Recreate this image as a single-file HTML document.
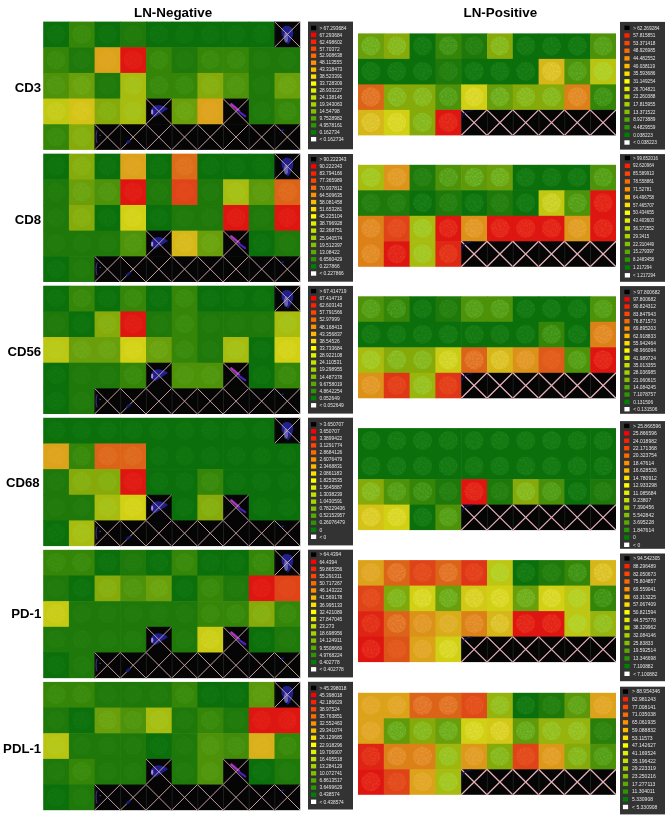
<!DOCTYPE html>
<html><head><meta charset="utf-8"><style>
html,body{margin:0;padding:0;background:#ffffff;width:669px;height:815px;overflow:hidden}
svg{display:block;will-change:transform}
.title{font-family:"Liberation Sans",sans-serif;font-weight:bold;font-size:13.4px;fill:#000}
.lab{font-family:"Liberation Sans",sans-serif;font-weight:bold;font-size:13.2px;fill:#000}
.lt{font-family:"Liberation Sans",sans-serif;font-size:4.85px;fill:#e4e4e4}
</style></head><body>
<svg width="669" height="815" viewBox="0 0 669 815">
<defs><filter id="speck" x="0" y="0" width="669" height="815" filterUnits="userSpaceOnUse" color-interpolation-filters="sRGB">
<feTurbulence type="fractalNoise" baseFrequency="0.55" numOctaves="2" seed="7" result="n"/>
<feColorMatrix in="n" type="matrix" values="0 0 0 0 0  0 0 0 0 0  0 0 0 0 0  3 0 0 0 -1.2" result="a"/>
<feComposite in="SourceGraphic" in2="a" operator="in"/>
</filter></defs>
<text x="134" y="16.6" class="title">LN-Negative</text><text x="463.5" y="16.6" class="title">LN-Positive</text><rect x="43.20" y="21.60" width="26.30" height="26.26" fill="#0b700b"/><circle cx="56.05" cy="34.13" r="9.62" fill="#0e730e"/><rect x="68.90" y="21.60" width="26.30" height="26.26" fill="#358508"/><circle cx="81.75" cy="34.13" r="9.62" fill="#398a0d"/><rect x="94.60" y="21.60" width="26.30" height="26.26" fill="#0b700b"/><circle cx="107.45" cy="34.13" r="9.62" fill="#0e730e"/><rect x="120.30" y="21.60" width="26.30" height="26.26" fill="#1e780a"/><circle cx="133.15" cy="34.13" r="9.62" fill="#217b0d"/><rect x="146.00" y="21.60" width="26.30" height="26.26" fill="#0b700b"/><circle cx="158.85" cy="34.13" r="9.62" fill="#0e730e"/><rect x="171.70" y="21.60" width="26.30" height="26.26" fill="#0b700b"/><circle cx="184.55" cy="34.13" r="9.62" fill="#0e730e"/><rect x="197.40" y="21.60" width="26.30" height="26.26" fill="#0b700b"/><circle cx="210.25" cy="34.13" r="9.62" fill="#0e730e"/><rect x="223.10" y="21.60" width="26.30" height="26.26" fill="#0b700b"/><circle cx="235.95" cy="34.13" r="9.62" fill="#0e730e"/><rect x="248.80" y="21.60" width="26.30" height="26.26" fill="#0b700b"/><circle cx="261.65" cy="34.13" r="9.62" fill="#0e730e"/><rect x="274.50" y="21.60" width="25.70" height="26.26" fill="#050505"/><path d="M274.90,21.60 V47.26" stroke="#242424" stroke-width="0.8"/><path d="M281.44,30.84 C281.44,23.65 293.77,24.17 293.26,32.38 C293.00,37.51 289.92,42.13 287.86,44.69 C286.06,41.10 281.44,37.00 281.44,30.84 Z" fill="#20208a"/><ellipse cx="286.06" cy="37.51" rx="2.06" ry="5.13" fill="#9a9ad8" opacity="0.55"/><path d="M274.50,21.60 L300.20,47.26 M300.20,21.60 L274.50,47.26" stroke="#cca6aa" stroke-width="0.95" fill="none"/><rect x="43.20" y="47.26" width="26.30" height="26.26" fill="#358508"/><circle cx="56.05" cy="59.79" r="9.62" fill="#398a0d"/><rect x="68.90" y="47.26" width="26.30" height="26.26" fill="#1e780a"/><circle cx="81.75" cy="59.79" r="9.62" fill="#217b0d"/><rect x="94.60" y="47.26" width="26.30" height="26.26" fill="#dca21a"/><circle cx="107.45" cy="59.79" r="9.62" fill="#dea41f"/><rect x="120.30" y="47.26" width="26.30" height="26.26" fill="#de1612"/><circle cx="133.15" cy="59.79" r="9.62" fill="#e01b14"/><rect x="146.00" y="47.26" width="26.30" height="26.26" fill="#358508"/><circle cx="158.85" cy="59.79" r="9.62" fill="#398a0d"/><rect x="171.70" y="47.26" width="26.30" height="26.26" fill="#1e780a"/><circle cx="184.55" cy="59.79" r="9.62" fill="#217b0d"/><rect x="197.40" y="47.26" width="26.30" height="26.26" fill="#358508"/><circle cx="210.25" cy="59.79" r="9.62" fill="#398a0d"/><rect x="223.10" y="47.26" width="26.30" height="26.26" fill="#358508"/><circle cx="235.95" cy="59.79" r="9.62" fill="#398a0d"/><rect x="248.80" y="47.26" width="26.30" height="26.26" fill="#1e780a"/><circle cx="261.65" cy="59.79" r="9.62" fill="#217b0d"/><rect x="274.50" y="47.26" width="25.70" height="26.26" fill="#1e780a"/><circle cx="287.35" cy="59.79" r="9.62" fill="#217b0d"/><rect x="43.20" y="72.92" width="26.30" height="26.26" fill="#4e920a"/><circle cx="56.05" cy="85.45" r="9.62" fill="#51960f"/><rect x="68.90" y="72.92" width="26.30" height="26.26" fill="#6a9e0a"/><circle cx="81.75" cy="85.45" r="9.62" fill="#6ca310"/><rect x="94.60" y="72.92" width="26.30" height="26.26" fill="#1e780a"/><circle cx="107.45" cy="85.45" r="9.62" fill="#217b0d"/><rect x="120.30" y="72.92" width="26.30" height="26.26" fill="#a8bc10"/><circle cx="133.15" cy="85.45" r="9.62" fill="#a7c016"/><rect x="146.00" y="72.92" width="26.30" height="26.26" fill="#358508"/><circle cx="158.85" cy="85.45" r="9.62" fill="#398a0d"/><rect x="171.70" y="72.92" width="26.30" height="26.26" fill="#358508"/><circle cx="184.55" cy="85.45" r="9.62" fill="#398a0d"/><rect x="197.40" y="72.92" width="26.30" height="26.26" fill="#86aa0a"/><circle cx="210.25" cy="85.45" r="9.62" fill="#87af10"/><rect x="223.10" y="72.92" width="26.30" height="26.26" fill="#4e920a"/><circle cx="235.95" cy="85.45" r="9.62" fill="#51960f"/><rect x="248.80" y="72.92" width="26.30" height="26.26" fill="#1e780a"/><circle cx="261.65" cy="85.45" r="9.62" fill="#217b0d"/><rect x="274.50" y="72.92" width="25.70" height="26.26" fill="#6a9e0a"/><circle cx="287.35" cy="85.45" r="9.62" fill="#6ca310"/><rect x="43.20" y="98.58" width="26.30" height="26.26" fill="#c1c812"/><circle cx="56.05" cy="111.11" r="9.62" fill="#c5cb19"/><rect x="68.90" y="98.58" width="26.30" height="26.26" fill="#d4c316"/><circle cx="81.75" cy="111.11" r="9.62" fill="#d6c61c"/><rect x="94.60" y="98.58" width="26.30" height="26.26" fill="#86aa0a"/><circle cx="107.45" cy="111.11" r="9.62" fill="#87af10"/><rect x="120.30" y="98.58" width="26.30" height="26.26" fill="#a8bc10"/><circle cx="133.15" cy="111.11" r="9.62" fill="#a7c016"/><rect x="146.00" y="98.58" width="26.30" height="26.26" fill="#050505"/><path d="M146.40,98.58 V124.24" stroke="#242424" stroke-width="0.8"/><path d="M151.14,114.49 C149.08,106.28 157.56,101.15 168.10,108.84 L160.13,113.98 L155.00,117.06 Z" fill="#1e1e8c"/><ellipse cx="152.17" cy="111.92" rx="1.1" ry="2.6" fill="#d0a8e8" opacity="0.8"/><path d="M146.00,98.58 L171.70,124.24 M171.70,98.58 L146.00,124.24" stroke="#cca6aa" stroke-width="0.95" fill="none"/><rect x="171.70" y="98.58" width="26.30" height="26.26" fill="#6a9e0a"/><circle cx="184.55" cy="111.11" r="9.62" fill="#6ca310"/><rect x="197.40" y="98.58" width="26.30" height="26.26" fill="#dca21a"/><circle cx="210.25" cy="111.11" r="9.62" fill="#dea41f"/><rect x="223.10" y="98.58" width="26.30" height="26.26" fill="#050505"/><path d="M223.50,98.58 V124.24" stroke="#242424" stroke-width="0.8"/><path d="M231.32,104.23 L239.03,110.90" stroke="#b030c8" stroke-width="2.4" stroke-linecap="round"/><path d="M238.52,111.41 L245.20,116.03" stroke="#4a20c0" stroke-width="2.2" stroke-linecap="round"/><path d="M223.10,98.58 L248.80,124.24 M248.80,98.58 L223.10,124.24" stroke="#cca6aa" stroke-width="0.95" fill="none"/><rect x="248.80" y="98.58" width="26.30" height="26.26" fill="#1e780a"/><circle cx="261.65" cy="111.11" r="9.62" fill="#217b0d"/><rect x="274.50" y="98.58" width="25.70" height="26.26" fill="#358508"/><circle cx="287.35" cy="111.11" r="9.62" fill="#398a0d"/><rect x="43.20" y="124.24" width="26.30" height="25.66" fill="#358508"/><circle cx="56.05" cy="136.77" r="9.62" fill="#398a0d"/><rect x="68.90" y="124.24" width="26.30" height="25.66" fill="#86aa0a"/><circle cx="81.75" cy="136.77" r="9.62" fill="#87af10"/><rect x="94.60" y="124.24" width="26.30" height="25.66" fill="#050505"/><path d="M95.00,124.24 V149.90" stroke="#242424" stroke-width="0.8"/><path d="M94.60,124.24 L120.30,149.90 M120.30,124.24 L94.60,149.90" stroke="#cca6aa" stroke-width="0.95" fill="none"/><rect x="120.30" y="124.24" width="26.30" height="25.66" fill="#050505"/><path d="M120.70,124.24 V149.90" stroke="#242424" stroke-width="0.8"/><path d="M120.30,124.24 L146.00,149.90 M146.00,124.24 L120.30,149.90" stroke="#cca6aa" stroke-width="0.95" fill="none"/><rect x="146.00" y="124.24" width="26.30" height="25.66" fill="#050505"/><path d="M146.40,124.24 V149.90" stroke="#242424" stroke-width="0.8"/><path d="M146.00,124.24 L171.70,149.90 M171.70,124.24 L146.00,149.90" stroke="#cca6aa" stroke-width="0.95" fill="none"/><rect x="171.70" y="124.24" width="26.30" height="25.66" fill="#050505"/><path d="M172.10,124.24 V149.90" stroke="#242424" stroke-width="0.8"/><path d="M171.70,124.24 L197.40,149.90 M197.40,124.24 L171.70,149.90" stroke="#cca6aa" stroke-width="0.95" fill="none"/><rect x="197.40" y="124.24" width="26.30" height="25.66" fill="#050505"/><path d="M197.80,124.24 V149.90" stroke="#242424" stroke-width="0.8"/><path d="M197.40,124.24 L223.10,149.90 M223.10,124.24 L197.40,149.90" stroke="#cca6aa" stroke-width="0.95" fill="none"/><rect x="223.10" y="124.24" width="26.30" height="25.66" fill="#050505"/><path d="M223.50,124.24 V149.90" stroke="#242424" stroke-width="0.8"/><path d="M223.10,124.24 L248.80,149.90 M248.80,124.24 L223.10,149.90" stroke="#cca6aa" stroke-width="0.95" fill="none"/><rect x="248.80" y="124.24" width="26.30" height="25.66" fill="#050505"/><path d="M249.20,124.24 V149.90" stroke="#242424" stroke-width="0.8"/><path d="M248.80,124.24 L274.50,149.90 M274.50,124.24 L248.80,149.90" stroke="#cca6aa" stroke-width="0.95" fill="none"/><rect x="274.50" y="124.24" width="25.70" height="25.66" fill="#050505"/><path d="M274.90,124.24 V149.90" stroke="#242424" stroke-width="0.8"/><path d="M274.50,124.24 L300.20,149.90 M300.20,124.24 L274.50,149.90" stroke="#cca6aa" stroke-width="0.95" fill="none"/><g filter="url(#speck)"><circle cx="56.05" cy="34.13" r="9.62" fill="#127711"/><circle cx="81.75" cy="34.13" r="9.62" fill="#3e9013"/><circle cx="107.45" cy="34.13" r="9.62" fill="#127711"/><circle cx="133.15" cy="34.13" r="9.62" fill="#247e10"/><circle cx="158.85" cy="34.13" r="9.62" fill="#127711"/><circle cx="184.55" cy="34.13" r="9.62" fill="#127711"/><circle cx="210.25" cy="34.13" r="9.62" fill="#127711"/><circle cx="235.95" cy="34.13" r="9.62" fill="#127711"/><circle cx="261.65" cy="34.13" r="9.62" fill="#127711"/><circle cx="56.05" cy="59.79" r="9.62" fill="#3e9013"/><circle cx="81.75" cy="59.79" r="9.62" fill="#247e10"/><circle cx="107.45" cy="59.79" r="9.62" fill="#e0a725"/><circle cx="133.15" cy="59.79" r="9.62" fill="#e22217"/><circle cx="158.85" cy="59.79" r="9.62" fill="#3e9013"/><circle cx="184.55" cy="59.79" r="9.62" fill="#247e10"/><circle cx="210.25" cy="59.79" r="9.62" fill="#3e9013"/><circle cx="235.95" cy="59.79" r="9.62" fill="#3e9013"/><circle cx="261.65" cy="59.79" r="9.62" fill="#247e10"/><circle cx="287.35" cy="59.79" r="9.62" fill="#247e10"/><circle cx="56.05" cy="85.45" r="9.62" fill="#549c15"/><circle cx="81.75" cy="85.45" r="9.62" fill="#6faa18"/><circle cx="107.45" cy="85.45" r="9.62" fill="#247e10"/><circle cx="133.15" cy="85.45" r="9.62" fill="#a6c41e"/><circle cx="158.85" cy="85.45" r="9.62" fill="#3e9013"/><circle cx="184.55" cy="85.45" r="9.62" fill="#3e9013"/><circle cx="210.25" cy="85.45" r="9.62" fill="#88b418"/><circle cx="235.95" cy="85.45" r="9.62" fill="#549c15"/><circle cx="261.65" cy="85.45" r="9.62" fill="#247e10"/><circle cx="287.35" cy="85.45" r="9.62" fill="#6faa18"/><circle cx="56.05" cy="111.11" r="9.62" fill="#c9cf21"/><circle cx="81.75" cy="111.11" r="9.62" fill="#d9ca24"/><circle cx="107.45" cy="111.11" r="9.62" fill="#88b418"/><circle cx="133.15" cy="111.11" r="9.62" fill="#a6c41e"/><circle cx="184.55" cy="111.11" r="9.62" fill="#6faa18"/><circle cx="210.25" cy="111.11" r="9.62" fill="#e0a725"/><circle cx="261.65" cy="111.11" r="9.62" fill="#247e10"/><circle cx="287.35" cy="111.11" r="9.62" fill="#3e9013"/><circle cx="56.05" cy="136.77" r="9.62" fill="#3e9013"/><circle cx="81.75" cy="136.77" r="9.62" fill="#88b418"/></g><path d="M97.20,130.24 Q95.20,136.24 97.00,143.24" stroke="#44288c" stroke-width="1.1" fill="none"/><circle cx="100.10" cy="135.24" r="0.6" fill="#20a0a0"/><ellipse cx="128.30" cy="141.74" rx="2.6" ry="1.4" fill="#1a1f78" transform="rotate(-35 128.30 141.74)"/><ellipse cx="282.50" cy="130.24" rx="1.6" ry="0.8" fill="#1a2288" transform="rotate(-35 282.50 130.24)"/><text x="28.00" y="92.22" class="lab" text-anchor="middle">CD3</text><rect x="308.00" y="21.60" width="45.00" height="127.70" fill="#333333"/><rect x="311.00" y="25.70" width="5.2" height="4.4" fill="#000000"/><text x="319.40" y="29.65" class="lt" style="font-size:4.85px">&gt; 67.293684</text><rect x="311.00" y="32.66" width="5.2" height="4.4" fill="#ff0000"/><text x="319.40" y="36.61" class="lt" style="font-size:4.85px">67.293684</text><rect x="311.00" y="39.61" width="5.2" height="4.4" fill="#ff2000"/><text x="319.40" y="43.56" class="lt" style="font-size:4.85px">62.498602</text><rect x="311.00" y="46.57" width="5.2" height="4.4" fill="#ff4500"/><text x="319.40" y="50.52" class="lt" style="font-size:4.85px">57.70372</text><rect x="311.00" y="53.52" width="5.2" height="4.4" fill="#ff6a00"/><text x="319.40" y="57.47" class="lt" style="font-size:4.85px">52.908638</text><rect x="311.00" y="60.48" width="5.2" height="4.4" fill="#ff9000"/><text x="319.40" y="64.43" class="lt" style="font-size:4.85px">48.113555</text><rect x="311.00" y="67.44" width="5.2" height="4.4" fill="#ffb800"/><text x="319.40" y="71.39" class="lt" style="font-size:4.85px">43.318473</text><rect x="311.00" y="74.39" width="5.2" height="4.4" fill="#ffdf00"/><text x="319.40" y="78.34" class="lt" style="font-size:4.85px">38.523391</text><rect x="311.00" y="81.35" width="5.2" height="4.4" fill="#ffff00"/><text x="319.40" y="85.30" class="lt" style="font-size:4.85px">33.728309</text><rect x="311.00" y="88.31" width="5.2" height="4.4" fill="#e1f000"/><text x="319.40" y="92.26" class="lt" style="font-size:4.85px">28.933227</text><rect x="311.00" y="95.26" width="5.2" height="4.4" fill="#c3e200"/><text x="319.40" y="99.21" class="lt" style="font-size:4.85px">24.138145</text><rect x="311.00" y="102.22" width="5.2" height="4.4" fill="#a5d300"/><text x="319.40" y="106.17" class="lt" style="font-size:4.85px">19.343063</text><rect x="311.00" y="109.17" width="5.2" height="4.4" fill="#81c100"/><text x="319.40" y="113.12" class="lt" style="font-size:4.85px">14.54798</text><rect x="311.00" y="116.13" width="5.2" height="4.4" fill="#56ab00"/><text x="319.40" y="120.08" class="lt" style="font-size:4.85px">9.7528982</text><rect x="311.00" y="123.09" width="5.2" height="4.4" fill="#2b9600"/><text x="319.40" y="127.04" class="lt" style="font-size:4.85px">4.9578161</text><rect x="311.00" y="130.04" width="5.2" height="4.4" fill="#008000"/><text x="319.40" y="133.99" class="lt" style="font-size:4.85px">0.162734</text><rect x="311.00" y="137.00" width="5.2" height="4.4" fill="#ffffff"/><text x="319.40" y="140.95" class="lt" style="font-size:4.85px">&lt; 0.162734</text><rect x="358.00" y="33.40" width="26.40" height="26.10" fill="#6a9e0a"/><circle cx="370.90" cy="45.85" r="9.56" fill="#70ab1a"/><rect x="383.80" y="33.40" width="26.40" height="26.10" fill="#86aa0a"/><circle cx="396.70" cy="45.85" r="9.56" fill="#88b51a"/><rect x="409.60" y="33.40" width="26.40" height="26.10" fill="#0b700b"/><circle cx="422.50" cy="45.85" r="9.56" fill="#137811"/><rect x="435.40" y="33.40" width="26.40" height="26.10" fill="#358508"/><circle cx="448.30" cy="45.85" r="9.56" fill="#3f9114"/><rect x="461.20" y="33.40" width="26.40" height="26.10" fill="#1e780a"/><circle cx="474.10" cy="45.85" r="9.56" fill="#247f10"/><rect x="487.00" y="33.40" width="26.40" height="26.10" fill="#86aa0a"/><circle cx="499.90" cy="45.85" r="9.56" fill="#88b51a"/><rect x="512.80" y="33.40" width="26.40" height="26.10" fill="#0b700b"/><circle cx="525.70" cy="45.85" r="9.56" fill="#137811"/><rect x="538.60" y="33.40" width="26.40" height="26.10" fill="#0b700b"/><circle cx="551.50" cy="45.85" r="9.56" fill="#137811"/><rect x="564.40" y="33.40" width="26.40" height="26.10" fill="#0b700b"/><circle cx="577.30" cy="45.85" r="9.56" fill="#137811"/><rect x="590.20" y="33.40" width="25.80" height="26.10" fill="#4e920a"/><circle cx="603.10" cy="45.85" r="9.56" fill="#559d16"/><rect x="358.00" y="58.90" width="26.40" height="26.10" fill="#0b700b"/><circle cx="370.90" cy="71.35" r="9.56" fill="#137811"/><rect x="383.80" y="58.90" width="26.40" height="26.10" fill="#0b700b"/><circle cx="396.70" cy="71.35" r="9.56" fill="#137811"/><rect x="409.60" y="58.90" width="26.40" height="26.10" fill="#0b700b"/><circle cx="422.50" cy="71.35" r="9.56" fill="#137811"/><rect x="435.40" y="58.90" width="26.40" height="26.10" fill="#1e780a"/><circle cx="448.30" cy="71.35" r="9.56" fill="#247f10"/><rect x="461.20" y="58.90" width="26.40" height="26.10" fill="#0b700b"/><circle cx="474.10" cy="71.35" r="9.56" fill="#137811"/><rect x="487.00" y="58.90" width="26.40" height="26.10" fill="#0b700b"/><circle cx="499.90" cy="71.35" r="9.56" fill="#137811"/><rect x="512.80" y="58.90" width="26.40" height="26.10" fill="#0b700b"/><circle cx="525.70" cy="71.35" r="9.56" fill="#137811"/><rect x="538.60" y="58.90" width="26.40" height="26.10" fill="#d6b618"/><circle cx="551.50" cy="71.35" r="9.56" fill="#dcc028"/><rect x="564.40" y="58.90" width="26.40" height="26.10" fill="#4e920a"/><circle cx="577.30" cy="71.35" r="9.56" fill="#559d16"/><rect x="590.20" y="58.90" width="25.80" height="26.10" fill="#b9c412"/><circle cx="603.10" cy="71.35" r="9.56" fill="#b4cc21"/><rect x="358.00" y="84.40" width="26.40" height="26.10" fill="#dc6418"/><circle cx="370.90" cy="96.85" r="9.56" fill="#e17225"/><rect x="383.80" y="84.40" width="26.40" height="26.10" fill="#86aa0a"/><circle cx="396.70" cy="96.85" r="9.56" fill="#88b51a"/><rect x="409.60" y="84.40" width="26.40" height="26.10" fill="#86aa0a"/><circle cx="422.50" cy="96.85" r="9.56" fill="#88b51a"/><rect x="435.40" y="84.40" width="26.40" height="26.10" fill="#4e920a"/><circle cx="448.30" cy="96.85" r="9.56" fill="#559d16"/><rect x="461.20" y="84.40" width="26.40" height="26.10" fill="#d2d014"/><circle cx="474.10" cy="96.85" r="9.56" fill="#d8d624"/><rect x="487.00" y="84.40" width="26.40" height="26.10" fill="#6a9e0a"/><circle cx="499.90" cy="96.85" r="9.56" fill="#70ab1a"/><rect x="512.80" y="84.40" width="26.40" height="26.10" fill="#86aa0a"/><circle cx="525.70" cy="96.85" r="9.56" fill="#88b51a"/><rect x="538.60" y="84.40" width="26.40" height="26.10" fill="#86aa0a"/><circle cx="551.50" cy="96.85" r="9.56" fill="#88b51a"/><rect x="564.40" y="84.40" width="26.40" height="26.10" fill="#dc8018"/><circle cx="577.30" cy="96.85" r="9.56" fill="#e18a25"/><rect x="590.20" y="84.40" width="25.80" height="26.10" fill="#358508"/><circle cx="603.10" cy="96.85" r="9.56" fill="#3f9114"/><rect x="358.00" y="109.90" width="26.40" height="25.50" fill="#d6b618"/><circle cx="370.90" cy="122.35" r="9.56" fill="#dcc028"/><rect x="383.80" y="109.90" width="26.40" height="25.50" fill="#d2d014"/><circle cx="396.70" cy="122.35" r="9.56" fill="#d8d624"/><rect x="409.60" y="109.90" width="26.40" height="25.50" fill="#86aa0a"/><circle cx="422.50" cy="122.35" r="9.56" fill="#88b51a"/><rect x="435.40" y="109.90" width="26.40" height="25.50" fill="#de1612"/><circle cx="448.30" cy="122.35" r="9.56" fill="#e22318"/><rect x="461.20" y="109.90" width="26.40" height="25.50" fill="#050505"/><path d="M461.60,109.90 V135.40" stroke="#242424" stroke-width="0.8"/><path d="M461.20,109.90 L487.00,135.40 M487.00,109.90 L461.20,135.40" stroke="#e6b2ba" stroke-width="1.25" fill="none"/><rect x="487.00" y="109.90" width="26.40" height="25.50" fill="#050505"/><path d="M487.40,109.90 V135.40" stroke="#242424" stroke-width="0.8"/><path d="M487.00,109.90 L512.80,135.40 M512.80,109.90 L487.00,135.40" stroke="#e6b2ba" stroke-width="1.25" fill="none"/><rect x="512.80" y="109.90" width="26.40" height="25.50" fill="#050505"/><path d="M513.20,109.90 V135.40" stroke="#242424" stroke-width="0.8"/><path d="M512.80,109.90 L538.60,135.40 M538.60,109.90 L512.80,135.40" stroke="#e6b2ba" stroke-width="1.25" fill="none"/><rect x="538.60" y="109.90" width="26.40" height="25.50" fill="#050505"/><path d="M539.00,109.90 V135.40" stroke="#242424" stroke-width="0.8"/><path d="M538.60,109.90 L564.40,135.40 M564.40,109.90 L538.60,135.40" stroke="#e6b2ba" stroke-width="1.25" fill="none"/><rect x="564.40" y="109.90" width="26.40" height="25.50" fill="#050505"/><path d="M564.80,109.90 V135.40" stroke="#242424" stroke-width="0.8"/><path d="M564.40,109.90 L590.20,135.40 M590.20,109.90 L564.40,135.40" stroke="#e6b2ba" stroke-width="1.25" fill="none"/><rect x="590.20" y="109.90" width="25.80" height="25.50" fill="#050505"/><path d="M590.60,109.90 V135.40" stroke="#242424" stroke-width="0.8"/><path d="M590.20,109.90 L616.00,135.40 M616.00,109.90 L590.20,135.40" stroke="#e6b2ba" stroke-width="1.25" fill="none"/><g filter="url(#speck)"><circle cx="370.90" cy="45.85" r="9.56" fill="#77bb2e"/><circle cx="396.70" cy="45.85" r="9.56" fill="#8bc42e"/><circle cx="422.50" cy="45.85" r="9.56" fill="#1c8119"/><circle cx="448.30" cy="45.85" r="9.56" fill="#4ba023"/><circle cx="474.10" cy="45.85" r="9.56" fill="#2c8818"/><circle cx="499.90" cy="45.85" r="9.56" fill="#8bc42e"/><circle cx="525.70" cy="45.85" r="9.56" fill="#1c8119"/><circle cx="551.50" cy="45.85" r="9.56" fill="#1c8119"/><circle cx="577.30" cy="45.85" r="9.56" fill="#1c8119"/><circle cx="603.10" cy="45.85" r="9.56" fill="#5eab25"/><circle cx="370.90" cy="71.35" r="9.56" fill="#1c8119"/><circle cx="396.70" cy="71.35" r="9.56" fill="#1c8119"/><circle cx="422.50" cy="71.35" r="9.56" fill="#1c8119"/><circle cx="448.30" cy="71.35" r="9.56" fill="#2c8818"/><circle cx="474.10" cy="71.35" r="9.56" fill="#1c8119"/><circle cx="499.90" cy="71.35" r="9.56" fill="#1c8119"/><circle cx="525.70" cy="71.35" r="9.56" fill="#1c8119"/><circle cx="551.50" cy="71.35" r="9.56" fill="#e2cc3b"/><circle cx="577.30" cy="71.35" r="9.56" fill="#5eab25"/><circle cx="603.10" cy="71.35" r="9.56" fill="#aed633"/><circle cx="370.90" cy="96.85" r="9.56" fill="#e68235"/><circle cx="396.70" cy="96.85" r="9.56" fill="#8bc42e"/><circle cx="422.50" cy="96.85" r="9.56" fill="#8bc42e"/><circle cx="448.30" cy="96.85" r="9.56" fill="#5eab25"/><circle cx="474.10" cy="96.85" r="9.56" fill="#e0de38"/><circle cx="499.90" cy="96.85" r="9.56" fill="#77bb2e"/><circle cx="525.70" cy="96.85" r="9.56" fill="#8bc42e"/><circle cx="551.50" cy="96.85" r="9.56" fill="#8bc42e"/><circle cx="577.30" cy="96.85" r="9.56" fill="#e69635"/><circle cx="603.10" cy="96.85" r="9.56" fill="#4ba023"/><circle cx="370.90" cy="122.35" r="9.56" fill="#e2cc3b"/><circle cx="396.70" cy="122.35" r="9.56" fill="#e0de38"/><circle cx="422.50" cy="122.35" r="9.56" fill="#8bc42e"/><circle cx="448.30" cy="122.35" r="9.56" fill="#e8331f"/></g><path d="M461.70,117.90 Q462.70,111.40 472.20,110.50" stroke="#14146e" stroke-width="1.2" fill="none" stroke-linecap="round" opacity="0.85"/><rect x="620.00" y="21.90" width="45.00" height="127.70" fill="#333333"/><rect x="624.40" y="25.60" width="5.2" height="4.4" fill="#000000"/><text x="633.20" y="29.50" class="lt" style="font-size:4.7px">&gt; 62.269284</text><rect x="624.40" y="33.25" width="5.2" height="4.4" fill="#ff2000"/><text x="633.20" y="37.14" class="lt" style="font-size:4.7px">57.815851</text><rect x="624.40" y="40.89" width="5.2" height="4.4" fill="#ff4500"/><text x="633.20" y="44.79" class="lt" style="font-size:4.7px">53.371418</text><rect x="624.40" y="48.54" width="5.2" height="4.4" fill="#ff6a00"/><text x="633.20" y="52.44" class="lt" style="font-size:4.7px">48.926985</text><rect x="624.40" y="56.19" width="5.2" height="4.4" fill="#ff9000"/><text x="633.20" y="60.08" class="lt" style="font-size:4.7px">44.482552</text><rect x="624.40" y="63.83" width="5.2" height="4.4" fill="#ffb800"/><text x="633.20" y="67.73" class="lt" style="font-size:4.7px">40.038119</text><rect x="624.40" y="71.48" width="5.2" height="4.4" fill="#ffdf00"/><text x="633.20" y="75.38" class="lt" style="font-size:4.7px">35.593686</text><rect x="624.40" y="79.13" width="5.2" height="4.4" fill="#ffff00"/><text x="633.20" y="83.02" class="lt" style="font-size:4.7px">31.149254</text><rect x="624.40" y="86.77" width="5.2" height="4.4" fill="#e1f000"/><text x="633.20" y="90.67" class="lt" style="font-size:4.7px">26.704821</text><rect x="624.40" y="94.42" width="5.2" height="4.4" fill="#c3e200"/><text x="633.20" y="98.32" class="lt" style="font-size:4.7px">22.260388</text><rect x="624.40" y="102.07" width="5.2" height="4.4" fill="#a5d300"/><text x="633.20" y="105.96" class="lt" style="font-size:4.7px">17.815955</text><rect x="624.40" y="109.71" width="5.2" height="4.4" fill="#81c100"/><text x="633.20" y="113.61" class="lt" style="font-size:4.7px">13.371522</text><rect x="624.40" y="117.36" width="5.2" height="4.4" fill="#56ab00"/><text x="633.20" y="121.26" class="lt" style="font-size:4.7px">8.9273889</text><rect x="624.40" y="125.01" width="5.2" height="4.4" fill="#2b9600"/><text x="633.20" y="128.90" class="lt" style="font-size:4.7px">4.4829559</text><rect x="624.40" y="132.65" width="5.2" height="4.4" fill="#008000"/><text x="633.20" y="136.55" class="lt" style="font-size:4.7px">0.038223</text><rect x="624.40" y="140.30" width="5.2" height="4.4" fill="#ffffff"/><text x="633.20" y="144.20" class="lt" style="font-size:4.7px">&lt; 0.038223</text><rect x="43.20" y="153.66" width="26.30" height="26.26" fill="#0b700b"/><circle cx="56.05" cy="166.19" r="9.62" fill="#0e730e"/><rect x="68.90" y="153.66" width="26.30" height="26.26" fill="#86aa0a"/><circle cx="81.75" cy="166.19" r="9.62" fill="#87af10"/><rect x="94.60" y="153.66" width="26.30" height="26.26" fill="#0b700b"/><circle cx="107.45" cy="166.19" r="9.62" fill="#0e730e"/><rect x="120.30" y="153.66" width="26.30" height="26.26" fill="#dca21a"/><circle cx="133.15" cy="166.19" r="9.62" fill="#dea41f"/><rect x="146.00" y="153.66" width="26.30" height="26.26" fill="#0b700b"/><circle cx="158.85" cy="166.19" r="9.62" fill="#0e730e"/><rect x="171.70" y="153.66" width="26.30" height="26.26" fill="#dc6c18"/><circle cx="184.55" cy="166.19" r="9.62" fill="#de711d"/><rect x="197.40" y="153.66" width="26.30" height="26.26" fill="#0b700b"/><circle cx="210.25" cy="166.19" r="9.62" fill="#0e730e"/><rect x="223.10" y="153.66" width="26.30" height="26.26" fill="#0b700b"/><circle cx="235.95" cy="166.19" r="9.62" fill="#0e730e"/><rect x="248.80" y="153.66" width="26.30" height="26.26" fill="#0b700b"/><circle cx="261.65" cy="166.19" r="9.62" fill="#0e730e"/><rect x="274.50" y="153.66" width="25.70" height="26.26" fill="#050505"/><path d="M274.90,153.66 V179.32" stroke="#242424" stroke-width="0.8"/><path d="M281.44,162.90 C281.44,155.71 293.77,156.23 293.26,164.44 C293.00,169.57 289.92,174.19 287.86,176.75 C286.06,173.16 281.44,169.06 281.44,162.90 Z" fill="#20208a"/><ellipse cx="286.06" cy="169.57" rx="2.06" ry="5.13" fill="#9a9ad8" opacity="0.55"/><path d="M274.50,153.66 L300.20,179.32 M300.20,153.66 L274.50,179.32" stroke="#cca6aa" stroke-width="0.95" fill="none"/><rect x="43.20" y="179.32" width="26.30" height="26.26" fill="#1e780a"/><circle cx="56.05" cy="191.85" r="9.62" fill="#217b0d"/><rect x="68.90" y="179.32" width="26.30" height="26.26" fill="#6a9e0a"/><circle cx="81.75" cy="191.85" r="9.62" fill="#6ca310"/><rect x="94.60" y="179.32" width="26.30" height="26.26" fill="#4e920a"/><circle cx="107.45" cy="191.85" r="9.62" fill="#51960f"/><rect x="120.30" y="179.32" width="26.30" height="26.26" fill="#de1612"/><circle cx="133.15" cy="191.85" r="9.62" fill="#e01b14"/><rect x="146.00" y="179.32" width="26.30" height="26.26" fill="#1e780a"/><circle cx="158.85" cy="191.85" r="9.62" fill="#217b0d"/><rect x="171.70" y="179.32" width="26.30" height="26.26" fill="#de4418"/><circle cx="184.55" cy="191.85" r="9.62" fill="#e0471a"/><rect x="197.40" y="179.32" width="26.30" height="26.26" fill="#1e780a"/><circle cx="210.25" cy="191.85" r="9.62" fill="#217b0d"/><rect x="223.10" y="179.32" width="26.30" height="26.26" fill="#a8bc10"/><circle cx="235.95" cy="191.85" r="9.62" fill="#a7c016"/><rect x="248.80" y="179.32" width="26.30" height="26.26" fill="#5c980a"/><circle cx="261.65" cy="191.85" r="9.62" fill="#5e9c0f"/><rect x="274.50" y="179.32" width="25.70" height="26.26" fill="#dc6418"/><circle cx="287.35" cy="191.85" r="9.62" fill="#de691d"/><rect x="43.20" y="204.98" width="26.30" height="26.26" fill="#1e780a"/><circle cx="56.05" cy="217.51" r="9.62" fill="#217b0d"/><rect x="68.90" y="204.98" width="26.30" height="26.26" fill="#86aa0a"/><circle cx="81.75" cy="217.51" r="9.62" fill="#87af10"/><rect x="94.60" y="204.98" width="26.30" height="26.26" fill="#0b700b"/><circle cx="107.45" cy="217.51" r="9.62" fill="#0e730e"/><rect x="120.30" y="204.98" width="26.30" height="26.26" fill="#d2d014"/><circle cx="133.15" cy="217.51" r="9.62" fill="#d4d31a"/><rect x="146.00" y="204.98" width="26.30" height="26.26" fill="#0b700b"/><circle cx="158.85" cy="217.51" r="9.62" fill="#0e730e"/><rect x="171.70" y="204.98" width="26.30" height="26.26" fill="#1e780a"/><circle cx="184.55" cy="217.51" r="9.62" fill="#217b0d"/><rect x="197.40" y="204.98" width="26.30" height="26.26" fill="#1e780a"/><circle cx="210.25" cy="217.51" r="9.62" fill="#217b0d"/><rect x="223.10" y="204.98" width="26.30" height="26.26" fill="#de1612"/><circle cx="235.95" cy="217.51" r="9.62" fill="#e01b14"/><rect x="248.80" y="204.98" width="26.30" height="26.26" fill="#1e780a"/><circle cx="261.65" cy="217.51" r="9.62" fill="#217b0d"/><rect x="274.50" y="204.98" width="25.70" height="26.26" fill="#de1612"/><circle cx="287.35" cy="217.51" r="9.62" fill="#e01b14"/><rect x="43.20" y="230.64" width="26.30" height="26.26" fill="#1e780a"/><circle cx="56.05" cy="243.17" r="9.62" fill="#217b0d"/><rect x="68.90" y="230.64" width="26.30" height="26.26" fill="#1e780a"/><circle cx="81.75" cy="243.17" r="9.62" fill="#217b0d"/><rect x="94.60" y="230.64" width="26.30" height="26.26" fill="#1e780a"/><circle cx="107.45" cy="243.17" r="9.62" fill="#217b0d"/><rect x="120.30" y="230.64" width="26.30" height="26.26" fill="#4e920a"/><circle cx="133.15" cy="243.17" r="9.62" fill="#51960f"/><rect x="146.00" y="230.64" width="26.30" height="26.26" fill="#050505"/><path d="M146.40,230.64 V256.30" stroke="#242424" stroke-width="0.8"/><path d="M151.14,246.55 C149.08,238.34 157.56,233.21 168.10,240.90 L160.13,246.04 L155.00,249.12 Z" fill="#1e1e8c"/><ellipse cx="152.17" cy="243.98" rx="1.1" ry="2.6" fill="#d0a8e8" opacity="0.8"/><path d="M146.00,230.64 L171.70,256.30 M171.70,230.64 L146.00,256.30" stroke="#cca6aa" stroke-width="0.95" fill="none"/><rect x="171.70" y="230.64" width="26.30" height="26.26" fill="#d6b618"/><circle cx="184.55" cy="243.17" r="9.62" fill="#d8ba1e"/><rect x="197.40" y="230.64" width="26.30" height="26.26" fill="#6a9e0a"/><circle cx="210.25" cy="243.17" r="9.62" fill="#6ca310"/><rect x="223.10" y="230.64" width="26.30" height="26.26" fill="#050505"/><path d="M223.50,230.64 V256.30" stroke="#242424" stroke-width="0.8"/><path d="M231.32,236.29 L239.03,242.96" stroke="#b030c8" stroke-width="2.4" stroke-linecap="round"/><path d="M238.52,243.47 L245.20,248.09" stroke="#4a20c0" stroke-width="2.2" stroke-linecap="round"/><path d="M223.10,230.64 L248.80,256.30 M248.80,230.64 L223.10,256.30" stroke="#cca6aa" stroke-width="0.95" fill="none"/><rect x="248.80" y="230.64" width="26.30" height="26.26" fill="#0b700b"/><circle cx="261.65" cy="243.17" r="9.62" fill="#0e730e"/><rect x="274.50" y="230.64" width="25.70" height="26.26" fill="#1e780a"/><circle cx="287.35" cy="243.17" r="9.62" fill="#217b0d"/><rect x="43.20" y="256.30" width="26.30" height="25.66" fill="#0b700b"/><circle cx="56.05" cy="268.83" r="9.62" fill="#0e730e"/><rect x="68.90" y="256.30" width="26.30" height="25.66" fill="#1e780a"/><circle cx="81.75" cy="268.83" r="9.62" fill="#217b0d"/><rect x="94.60" y="256.30" width="26.30" height="25.66" fill="#050505"/><path d="M95.00,256.30 V281.96" stroke="#242424" stroke-width="0.8"/><path d="M94.60,256.30 L120.30,281.96 M120.30,256.30 L94.60,281.96" stroke="#cca6aa" stroke-width="0.95" fill="none"/><rect x="120.30" y="256.30" width="26.30" height="25.66" fill="#050505"/><path d="M120.70,256.30 V281.96" stroke="#242424" stroke-width="0.8"/><path d="M120.30,256.30 L146.00,281.96 M146.00,256.30 L120.30,281.96" stroke="#cca6aa" stroke-width="0.95" fill="none"/><rect x="146.00" y="256.30" width="26.30" height="25.66" fill="#050505"/><path d="M146.40,256.30 V281.96" stroke="#242424" stroke-width="0.8"/><path d="M146.00,256.30 L171.70,281.96 M171.70,256.30 L146.00,281.96" stroke="#cca6aa" stroke-width="0.95" fill="none"/><rect x="171.70" y="256.30" width="26.30" height="25.66" fill="#050505"/><path d="M172.10,256.30 V281.96" stroke="#242424" stroke-width="0.8"/><path d="M171.70,256.30 L197.40,281.96 M197.40,256.30 L171.70,281.96" stroke="#cca6aa" stroke-width="0.95" fill="none"/><rect x="197.40" y="256.30" width="26.30" height="25.66" fill="#050505"/><path d="M197.80,256.30 V281.96" stroke="#242424" stroke-width="0.8"/><path d="M197.40,256.30 L223.10,281.96 M223.10,256.30 L197.40,281.96" stroke="#cca6aa" stroke-width="0.95" fill="none"/><rect x="223.10" y="256.30" width="26.30" height="25.66" fill="#050505"/><path d="M223.50,256.30 V281.96" stroke="#242424" stroke-width="0.8"/><path d="M223.10,256.30 L248.80,281.96 M248.80,256.30 L223.10,281.96" stroke="#cca6aa" stroke-width="0.95" fill="none"/><rect x="248.80" y="256.30" width="26.30" height="25.66" fill="#050505"/><path d="M249.20,256.30 V281.96" stroke="#242424" stroke-width="0.8"/><path d="M248.80,256.30 L274.50,281.96 M274.50,256.30 L248.80,281.96" stroke="#cca6aa" stroke-width="0.95" fill="none"/><rect x="274.50" y="256.30" width="25.70" height="25.66" fill="#050505"/><path d="M274.90,256.30 V281.96" stroke="#242424" stroke-width="0.8"/><path d="M274.50,256.30 L300.20,281.96 M300.20,256.30 L274.50,281.96" stroke="#cca6aa" stroke-width="0.95" fill="none"/><g filter="url(#speck)"><circle cx="56.05" cy="166.19" r="9.62" fill="#127711"/><circle cx="81.75" cy="166.19" r="9.62" fill="#88b418"/><circle cx="107.45" cy="166.19" r="9.62" fill="#127711"/><circle cx="133.15" cy="166.19" r="9.62" fill="#e0a725"/><circle cx="158.85" cy="166.19" r="9.62" fill="#127711"/><circle cx="184.55" cy="166.19" r="9.62" fill="#e07724"/><circle cx="210.25" cy="166.19" r="9.62" fill="#127711"/><circle cx="235.95" cy="166.19" r="9.62" fill="#127711"/><circle cx="261.65" cy="166.19" r="9.62" fill="#127711"/><circle cx="56.05" cy="191.85" r="9.62" fill="#247e10"/><circle cx="81.75" cy="191.85" r="9.62" fill="#6faa18"/><circle cx="107.45" cy="191.85" r="9.62" fill="#549c15"/><circle cx="133.15" cy="191.85" r="9.62" fill="#e22217"/><circle cx="158.85" cy="191.85" r="9.62" fill="#247e10"/><circle cx="184.55" cy="191.85" r="9.62" fill="#e24a1c"/><circle cx="210.25" cy="191.85" r="9.62" fill="#247e10"/><circle cx="235.95" cy="191.85" r="9.62" fill="#a6c41e"/><circle cx="261.65" cy="191.85" r="9.62" fill="#61a115"/><circle cx="287.35" cy="191.85" r="9.62" fill="#e07024"/><circle cx="56.05" cy="217.51" r="9.62" fill="#247e10"/><circle cx="81.75" cy="217.51" r="9.62" fill="#88b418"/><circle cx="107.45" cy="217.51" r="9.62" fill="#127711"/><circle cx="133.15" cy="217.51" r="9.62" fill="#d7d622"/><circle cx="158.85" cy="217.51" r="9.62" fill="#127711"/><circle cx="184.55" cy="217.51" r="9.62" fill="#247e10"/><circle cx="210.25" cy="217.51" r="9.62" fill="#247e10"/><circle cx="235.95" cy="217.51" r="9.62" fill="#e22217"/><circle cx="261.65" cy="217.51" r="9.62" fill="#247e10"/><circle cx="287.35" cy="217.51" r="9.62" fill="#e22217"/><circle cx="56.05" cy="243.17" r="9.62" fill="#247e10"/><circle cx="81.75" cy="243.17" r="9.62" fill="#247e10"/><circle cx="107.45" cy="243.17" r="9.62" fill="#247e10"/><circle cx="133.15" cy="243.17" r="9.62" fill="#549c15"/><circle cx="184.55" cy="243.17" r="9.62" fill="#dbbf26"/><circle cx="210.25" cy="243.17" r="9.62" fill="#6faa18"/><circle cx="261.65" cy="243.17" r="9.62" fill="#127711"/><circle cx="287.35" cy="243.17" r="9.62" fill="#247e10"/><circle cx="56.05" cy="268.83" r="9.62" fill="#127711"/><circle cx="81.75" cy="268.83" r="9.62" fill="#247e10"/></g><path d="M97.20,262.30 Q95.20,268.30 97.00,275.30" stroke="#44288c" stroke-width="1.1" fill="none"/><circle cx="100.10" cy="267.30" r="0.6" fill="#20a0a0"/><ellipse cx="128.30" cy="273.80" rx="2.6" ry="1.4" fill="#1a1f78" transform="rotate(-35 128.30 273.80)"/><ellipse cx="282.50" cy="262.30" rx="1.6" ry="0.8" fill="#1a2288" transform="rotate(-35 282.50 262.30)"/><text x="28.00" y="223.62" class="lab" text-anchor="middle">CD8</text><rect x="308.00" y="154.00" width="45.00" height="127.70" fill="#333333"/><rect x="311.00" y="157.00" width="5.2" height="4.4" fill="#000000"/><text x="319.40" y="160.95" class="lt" style="font-size:4.85px">&gt; 90.222343</text><rect x="311.00" y="164.14" width="5.2" height="4.4" fill="#ff0000"/><text x="319.40" y="168.09" class="lt" style="font-size:4.85px">90.222343</text><rect x="311.00" y="171.29" width="5.2" height="4.4" fill="#ff2000"/><text x="319.40" y="175.24" class="lt" style="font-size:4.85px">83.794166</text><rect x="311.00" y="178.43" width="5.2" height="4.4" fill="#ff4500"/><text x="319.40" y="182.38" class="lt" style="font-size:4.85px">77.365989</text><rect x="311.00" y="185.57" width="5.2" height="4.4" fill="#ff6a00"/><text x="319.40" y="189.52" class="lt" style="font-size:4.85px">70.937812</text><rect x="311.00" y="192.72" width="5.2" height="4.4" fill="#ff9000"/><text x="319.40" y="196.67" class="lt" style="font-size:4.85px">64.509635</text><rect x="311.00" y="199.86" width="5.2" height="4.4" fill="#ffb800"/><text x="319.40" y="203.81" class="lt" style="font-size:4.85px">58.081458</text><rect x="311.00" y="207.01" width="5.2" height="4.4" fill="#ffdf00"/><text x="319.40" y="210.96" class="lt" style="font-size:4.85px">51.653281</text><rect x="311.00" y="214.15" width="5.2" height="4.4" fill="#ffff00"/><text x="319.40" y="218.10" class="lt" style="font-size:4.85px">45.225104</text><rect x="311.00" y="221.29" width="5.2" height="4.4" fill="#e1f000"/><text x="319.40" y="225.24" class="lt" style="font-size:4.85px">38.796928</text><rect x="311.00" y="228.44" width="5.2" height="4.4" fill="#c3e200"/><text x="319.40" y="232.39" class="lt" style="font-size:4.85px">32.368751</text><rect x="311.00" y="235.58" width="5.2" height="4.4" fill="#a5d300"/><text x="319.40" y="239.53" class="lt" style="font-size:4.85px">25.940574</text><rect x="311.00" y="242.73" width="5.2" height="4.4" fill="#81c100"/><text x="319.40" y="246.68" class="lt" style="font-size:4.85px">19.512397</text><rect x="311.00" y="249.87" width="5.2" height="4.4" fill="#56ab00"/><text x="319.40" y="253.82" class="lt" style="font-size:4.85px">13.08422</text><rect x="311.00" y="257.01" width="5.2" height="4.4" fill="#2b9600"/><text x="319.40" y="260.96" class="lt" style="font-size:4.85px">6.6560429</text><rect x="311.00" y="264.16" width="5.2" height="4.4" fill="#008000"/><text x="319.40" y="268.11" class="lt" style="font-size:4.85px">0.227866</text><rect x="311.00" y="271.30" width="5.2" height="4.4" fill="#ffffff"/><text x="319.40" y="275.25" class="lt" style="font-size:4.85px">&lt; 0.227866</text><rect x="358.00" y="164.80" width="26.40" height="26.10" fill="#a8bc10"/><circle cx="370.90" cy="177.25" r="9.56" fill="#a6c51f"/><rect x="383.80" y="164.80" width="26.40" height="26.10" fill="#dc9419"/><circle cx="396.70" cy="177.25" r="9.56" fill="#e19b26"/><rect x="409.60" y="164.80" width="26.40" height="26.10" fill="#1e780a"/><circle cx="422.50" cy="177.25" r="9.56" fill="#247f10"/><rect x="435.40" y="164.80" width="26.40" height="26.10" fill="#4e920a"/><circle cx="448.30" cy="177.25" r="9.56" fill="#559d16"/><rect x="461.20" y="164.80" width="26.40" height="26.10" fill="#5f990a"/><circle cx="474.10" cy="177.25" r="9.56" fill="#66a71a"/><rect x="487.00" y="164.80" width="26.40" height="26.10" fill="#6a9e0a"/><circle cx="499.90" cy="177.25" r="9.56" fill="#70ab1a"/><rect x="512.80" y="164.80" width="26.40" height="26.10" fill="#0b700b"/><circle cx="525.70" cy="177.25" r="9.56" fill="#137811"/><rect x="538.60" y="164.80" width="26.40" height="26.10" fill="#0b700b"/><circle cx="551.50" cy="177.25" r="9.56" fill="#137811"/><rect x="564.40" y="164.80" width="26.40" height="26.10" fill="#0b700b"/><circle cx="577.30" cy="177.25" r="9.56" fill="#137811"/><rect x="590.20" y="164.80" width="25.80" height="26.10" fill="#4e920a"/><circle cx="603.10" cy="177.25" r="9.56" fill="#559d16"/><rect x="358.00" y="190.30" width="26.40" height="26.10" fill="#1e780a"/><circle cx="370.90" cy="202.75" r="9.56" fill="#247f10"/><rect x="383.80" y="190.30" width="26.40" height="26.10" fill="#1e780a"/><circle cx="396.70" cy="202.75" r="9.56" fill="#247f10"/><rect x="409.60" y="190.30" width="26.40" height="26.10" fill="#0b700b"/><circle cx="422.50" cy="202.75" r="9.56" fill="#137811"/><rect x="435.40" y="190.30" width="26.40" height="26.10" fill="#1e780a"/><circle cx="448.30" cy="202.75" r="9.56" fill="#247f10"/><rect x="461.20" y="190.30" width="26.40" height="26.10" fill="#0b700b"/><circle cx="474.10" cy="202.75" r="9.56" fill="#137811"/><rect x="487.00" y="190.30" width="26.40" height="26.10" fill="#1e780a"/><circle cx="499.90" cy="202.75" r="9.56" fill="#247f10"/><rect x="512.80" y="190.30" width="26.40" height="26.10" fill="#0b700b"/><circle cx="525.70" cy="202.75" r="9.56" fill="#137811"/><rect x="538.60" y="190.30" width="26.40" height="26.10" fill="#c1c812"/><circle cx="551.50" cy="202.75" r="9.56" fill="#cacf23"/><rect x="564.40" y="190.30" width="26.40" height="26.10" fill="#4e920a"/><circle cx="577.30" cy="202.75" r="9.56" fill="#559d16"/><rect x="590.20" y="190.30" width="25.80" height="26.10" fill="#de1612"/><circle cx="603.10" cy="202.75" r="9.56" fill="#e22318"/><rect x="358.00" y="215.80" width="26.40" height="26.10" fill="#dc8018"/><circle cx="370.90" cy="228.25" r="9.56" fill="#e18a25"/><rect x="383.80" y="215.80" width="26.40" height="26.10" fill="#de4418"/><circle cx="396.70" cy="228.25" r="9.56" fill="#e24b1d"/><rect x="409.60" y="215.80" width="26.40" height="26.10" fill="#a8bc10"/><circle cx="422.50" cy="228.25" r="9.56" fill="#a6c51f"/><rect x="435.40" y="215.80" width="26.40" height="26.10" fill="#de1612"/><circle cx="448.30" cy="228.25" r="9.56" fill="#e22318"/><rect x="461.20" y="215.80" width="26.40" height="26.10" fill="#dc9119"/><circle cx="474.10" cy="228.25" r="9.56" fill="#e19826"/><rect x="487.00" y="215.80" width="26.40" height="26.10" fill="#de1612"/><circle cx="499.90" cy="228.25" r="9.56" fill="#e22318"/><rect x="512.80" y="215.80" width="26.40" height="26.10" fill="#de1612"/><circle cx="525.70" cy="228.25" r="9.56" fill="#e22318"/><rect x="538.60" y="215.80" width="26.40" height="26.10" fill="#de1612"/><circle cx="551.50" cy="228.25" r="9.56" fill="#e22318"/><rect x="564.40" y="215.80" width="26.40" height="26.10" fill="#dc9819"/><circle cx="577.30" cy="228.25" r="9.56" fill="#e19e26"/><rect x="590.20" y="215.80" width="25.80" height="26.10" fill="#de1612"/><circle cx="603.10" cy="228.25" r="9.56" fill="#e22318"/><rect x="358.00" y="241.30" width="26.40" height="25.50" fill="#dc8018"/><circle cx="370.90" cy="253.75" r="9.56" fill="#e18a25"/><rect x="383.80" y="241.30" width="26.40" height="25.50" fill="#de1612"/><circle cx="396.70" cy="253.75" r="9.56" fill="#e22318"/><rect x="409.60" y="241.30" width="26.40" height="25.50" fill="#a8bc10"/><circle cx="422.50" cy="253.75" r="9.56" fill="#a6c51f"/><rect x="435.40" y="241.30" width="26.40" height="25.50" fill="#de2814"/><circle cx="448.30" cy="253.75" r="9.56" fill="#e2331a"/><rect x="461.20" y="241.30" width="26.40" height="25.50" fill="#050505"/><path d="M461.60,241.30 V266.80" stroke="#242424" stroke-width="0.8"/><path d="M461.20,241.30 L487.00,266.80 M487.00,241.30 L461.20,266.80" stroke="#e6b2ba" stroke-width="1.25" fill="none"/><rect x="487.00" y="241.30" width="26.40" height="25.50" fill="#050505"/><path d="M487.40,241.30 V266.80" stroke="#242424" stroke-width="0.8"/><path d="M487.00,241.30 L512.80,266.80 M512.80,241.30 L487.00,266.80" stroke="#e6b2ba" stroke-width="1.25" fill="none"/><rect x="512.80" y="241.30" width="26.40" height="25.50" fill="#050505"/><path d="M513.20,241.30 V266.80" stroke="#242424" stroke-width="0.8"/><path d="M512.80,241.30 L538.60,266.80 M538.60,241.30 L512.80,266.80" stroke="#e6b2ba" stroke-width="1.25" fill="none"/><rect x="538.60" y="241.30" width="26.40" height="25.50" fill="#050505"/><path d="M539.00,241.30 V266.80" stroke="#242424" stroke-width="0.8"/><path d="M538.60,241.30 L564.40,266.80 M564.40,241.30 L538.60,266.80" stroke="#e6b2ba" stroke-width="1.25" fill="none"/><rect x="564.40" y="241.30" width="26.40" height="25.50" fill="#050505"/><path d="M564.80,241.30 V266.80" stroke="#242424" stroke-width="0.8"/><path d="M564.40,241.30 L590.20,266.80 M590.20,241.30 L564.40,266.80" stroke="#e6b2ba" stroke-width="1.25" fill="none"/><rect x="590.20" y="241.30" width="25.80" height="25.50" fill="#050505"/><path d="M590.60,241.30 V266.80" stroke="#242424" stroke-width="0.8"/><path d="M590.20,241.30 L616.00,266.80 M616.00,241.30 L590.20,266.80" stroke="#e6b2ba" stroke-width="1.25" fill="none"/><g filter="url(#speck)"><circle cx="370.90" cy="177.25" r="9.56" fill="#a3d032"/><circle cx="396.70" cy="177.25" r="9.56" fill="#e6a436"/><circle cx="422.50" cy="177.25" r="9.56" fill="#2c8818"/><circle cx="448.30" cy="177.25" r="9.56" fill="#5eab25"/><circle cx="474.10" cy="177.25" r="9.56" fill="#6fb82e"/><circle cx="499.90" cy="177.25" r="9.56" fill="#77bb2e"/><circle cx="525.70" cy="177.25" r="9.56" fill="#1c8119"/><circle cx="551.50" cy="177.25" r="9.56" fill="#1c8119"/><circle cx="577.30" cy="177.25" r="9.56" fill="#1c8119"/><circle cx="603.10" cy="177.25" r="9.56" fill="#5eab25"/><circle cx="370.90" cy="202.75" r="9.56" fill="#2c8818"/><circle cx="396.70" cy="202.75" r="9.56" fill="#2c8818"/><circle cx="422.50" cy="202.75" r="9.56" fill="#1c8119"/><circle cx="448.30" cy="202.75" r="9.56" fill="#2c8818"/><circle cx="474.10" cy="202.75" r="9.56" fill="#1c8119"/><circle cx="499.90" cy="202.75" r="9.56" fill="#2c8818"/><circle cx="525.70" cy="202.75" r="9.56" fill="#1c8119"/><circle cx="551.50" cy="202.75" r="9.56" fill="#d4d837"/><circle cx="577.30" cy="202.75" r="9.56" fill="#5eab25"/><circle cx="603.10" cy="202.75" r="9.56" fill="#e8331f"/><circle cx="370.90" cy="228.25" r="9.56" fill="#e69635"/><circle cx="396.70" cy="228.25" r="9.56" fill="#e85423"/><circle cx="422.50" cy="228.25" r="9.56" fill="#a3d032"/><circle cx="448.30" cy="228.25" r="9.56" fill="#e8331f"/><circle cx="474.10" cy="228.25" r="9.56" fill="#e6a236"/><circle cx="499.90" cy="228.25" r="9.56" fill="#e8331f"/><circle cx="525.70" cy="228.25" r="9.56" fill="#e8331f"/><circle cx="551.50" cy="228.25" r="9.56" fill="#e8331f"/><circle cx="577.30" cy="228.25" r="9.56" fill="#e6a636"/><circle cx="603.10" cy="228.25" r="9.56" fill="#e8331f"/><circle cx="370.90" cy="253.75" r="9.56" fill="#e69635"/><circle cx="396.70" cy="253.75" r="9.56" fill="#e8331f"/><circle cx="422.50" cy="253.75" r="9.56" fill="#a3d032"/><circle cx="448.30" cy="253.75" r="9.56" fill="#e84020"/></g><path d="M461.70,249.30 Q462.70,242.80 472.20,241.90" stroke="#14146e" stroke-width="1.2" fill="none" stroke-linecap="round" opacity="0.85"/><rect x="620.00" y="154.10" width="45.00" height="127.70" fill="#333333"/><rect x="624.80" y="155.80" width="5.2" height="4.4" fill="#000000"/><text x="633.10" y="159.61" class="lt" style="font-size:4.45px">&gt; 99.652016</text><rect x="624.80" y="163.62" width="5.2" height="4.4" fill="#ff2000"/><text x="633.10" y="167.43" class="lt" style="font-size:4.45px">92.620964</text><rect x="624.80" y="171.44" width="5.2" height="4.4" fill="#ff4500"/><text x="633.10" y="175.25" class="lt" style="font-size:4.45px">85.589913</text><rect x="624.80" y="179.26" width="5.2" height="4.4" fill="#ff6a00"/><text x="633.10" y="183.07" class="lt" style="font-size:4.45px">78.558861</text><rect x="624.80" y="187.08" width="5.2" height="4.4" fill="#ff9000"/><text x="633.10" y="190.89" class="lt" style="font-size:4.45px">71.52781</text><rect x="624.80" y="194.90" width="5.2" height="4.4" fill="#ffb800"/><text x="633.10" y="198.71" class="lt" style="font-size:4.45px">64.496758</text><rect x="624.80" y="202.72" width="5.2" height="4.4" fill="#ffdf00"/><text x="633.10" y="206.53" class="lt" style="font-size:4.45px">57.465707</text><rect x="624.80" y="210.54" width="5.2" height="4.4" fill="#ffff00"/><text x="633.10" y="214.35" class="lt" style="font-size:4.45px">50.434655</text><rect x="624.80" y="218.36" width="5.2" height="4.4" fill="#e1f000"/><text x="633.10" y="222.17" class="lt" style="font-size:4.45px">43.403603</text><rect x="624.80" y="226.18" width="5.2" height="4.4" fill="#c3e200"/><text x="633.10" y="229.99" class="lt" style="font-size:4.45px">36.372552</text><rect x="624.80" y="234.00" width="5.2" height="4.4" fill="#a5d300"/><text x="633.10" y="237.81" class="lt" style="font-size:4.45px">29.3415</text><rect x="624.80" y="241.82" width="5.2" height="4.4" fill="#81c100"/><text x="633.10" y="245.63" class="lt" style="font-size:4.45px">22.310449</text><rect x="624.80" y="249.64" width="5.2" height="4.4" fill="#56ab00"/><text x="633.10" y="253.45" class="lt" style="font-size:4.45px">15.279397</text><rect x="624.80" y="257.46" width="5.2" height="4.4" fill="#2b9600"/><text x="633.10" y="261.27" class="lt" style="font-size:4.45px">8.2483458</text><rect x="624.80" y="265.28" width="5.2" height="4.4" fill="#008000"/><text x="633.10" y="269.09" class="lt" style="font-size:4.45px">1.217294</text><rect x="624.80" y="273.10" width="5.2" height="4.4" fill="#ffffff"/><text x="633.10" y="276.91" class="lt" style="font-size:4.45px">&lt; 1.217294</text><rect x="43.20" y="285.72" width="26.30" height="26.26" fill="#0b700b"/><circle cx="56.05" cy="298.25" r="9.62" fill="#0e730e"/><rect x="68.90" y="285.72" width="26.30" height="26.26" fill="#358508"/><circle cx="81.75" cy="298.25" r="9.62" fill="#398a0d"/><rect x="94.60" y="285.72" width="26.30" height="26.26" fill="#0b700b"/><circle cx="107.45" cy="298.25" r="9.62" fill="#0e730e"/><rect x="120.30" y="285.72" width="26.30" height="26.26" fill="#358508"/><circle cx="133.15" cy="298.25" r="9.62" fill="#398a0d"/><rect x="146.00" y="285.72" width="26.30" height="26.26" fill="#0b700b"/><circle cx="158.85" cy="298.25" r="9.62" fill="#0e730e"/><rect x="171.70" y="285.72" width="26.30" height="26.26" fill="#358508"/><circle cx="184.55" cy="298.25" r="9.62" fill="#398a0d"/><rect x="197.40" y="285.72" width="26.30" height="26.26" fill="#0b700b"/><circle cx="210.25" cy="298.25" r="9.62" fill="#0e730e"/><rect x="223.10" y="285.72" width="26.30" height="26.26" fill="#0b700b"/><circle cx="235.95" cy="298.25" r="9.62" fill="#0e730e"/><rect x="248.80" y="285.72" width="26.30" height="26.26" fill="#0b700b"/><circle cx="261.65" cy="298.25" r="9.62" fill="#0e730e"/><rect x="274.50" y="285.72" width="25.70" height="26.26" fill="#050505"/><path d="M274.90,285.72 V311.38" stroke="#242424" stroke-width="0.8"/><path d="M281.44,294.96 C281.44,287.77 293.77,288.29 293.26,296.50 C293.00,301.63 289.92,306.25 287.86,308.81 C286.06,305.22 281.44,301.12 281.44,294.96 Z" fill="#20208a"/><ellipse cx="286.06" cy="301.63" rx="2.06" ry="5.13" fill="#9a9ad8" opacity="0.55"/><path d="M274.50,285.72 L300.20,311.38 M300.20,285.72 L274.50,311.38" stroke="#cca6aa" stroke-width="0.95" fill="none"/><rect x="43.20" y="311.38" width="26.30" height="26.26" fill="#1e780a"/><circle cx="56.05" cy="323.91" r="9.62" fill="#217b0d"/><rect x="68.90" y="311.38" width="26.30" height="26.26" fill="#0b700b"/><circle cx="81.75" cy="323.91" r="9.62" fill="#0e730e"/><rect x="94.60" y="311.38" width="26.30" height="26.26" fill="#86aa0a"/><circle cx="107.45" cy="323.91" r="9.62" fill="#87af10"/><rect x="120.30" y="311.38" width="26.30" height="26.26" fill="#de1612"/><circle cx="133.15" cy="323.91" r="9.62" fill="#e01b14"/><rect x="146.00" y="311.38" width="26.30" height="26.26" fill="#1e780a"/><circle cx="158.85" cy="323.91" r="9.62" fill="#217b0d"/><rect x="171.70" y="311.38" width="26.30" height="26.26" fill="#358508"/><circle cx="184.55" cy="323.91" r="9.62" fill="#398a0d"/><rect x="197.40" y="311.38" width="26.30" height="26.26" fill="#1e780a"/><circle cx="210.25" cy="323.91" r="9.62" fill="#217b0d"/><rect x="223.10" y="311.38" width="26.30" height="26.26" fill="#1e780a"/><circle cx="235.95" cy="323.91" r="9.62" fill="#217b0d"/><rect x="248.80" y="311.38" width="26.30" height="26.26" fill="#1e780a"/><circle cx="261.65" cy="323.91" r="9.62" fill="#217b0d"/><rect x="274.50" y="311.38" width="25.70" height="26.26" fill="#a8bc10"/><circle cx="287.35" cy="323.91" r="9.62" fill="#a7c016"/><rect x="43.20" y="337.04" width="26.30" height="26.26" fill="#bdc612"/><circle cx="56.05" cy="349.57" r="9.62" fill="#bbc918"/><rect x="68.90" y="337.04" width="26.30" height="26.26" fill="#6a9e0a"/><circle cx="81.75" cy="349.57" r="9.62" fill="#6ca310"/><rect x="94.60" y="337.04" width="26.30" height="26.26" fill="#6a9e0a"/><circle cx="107.45" cy="349.57" r="9.62" fill="#6ca310"/><rect x="120.30" y="337.04" width="26.30" height="26.26" fill="#d2d014"/><circle cx="133.15" cy="349.57" r="9.62" fill="#d4d31a"/><rect x="146.00" y="337.04" width="26.30" height="26.26" fill="#6a9e0a"/><circle cx="158.85" cy="349.57" r="9.62" fill="#6ca310"/><rect x="171.70" y="337.04" width="26.30" height="26.26" fill="#358508"/><circle cx="184.55" cy="349.57" r="9.62" fill="#398a0d"/><rect x="197.40" y="337.04" width="26.30" height="26.26" fill="#1e780a"/><circle cx="210.25" cy="349.57" r="9.62" fill="#217b0d"/><rect x="223.10" y="337.04" width="26.30" height="26.26" fill="#a8bc10"/><circle cx="235.95" cy="349.57" r="9.62" fill="#a7c016"/><rect x="248.80" y="337.04" width="26.30" height="26.26" fill="#0b700b"/><circle cx="261.65" cy="349.57" r="9.62" fill="#0e730e"/><rect x="274.50" y="337.04" width="25.70" height="26.26" fill="#d2d014"/><circle cx="287.35" cy="349.57" r="9.62" fill="#d4d31a"/><rect x="43.20" y="362.70" width="26.30" height="26.26" fill="#0b700b"/><circle cx="56.05" cy="375.23" r="9.62" fill="#0e730e"/><rect x="68.90" y="362.70" width="26.30" height="26.26" fill="#1e780a"/><circle cx="81.75" cy="375.23" r="9.62" fill="#217b0d"/><rect x="94.60" y="362.70" width="26.30" height="26.26" fill="#1e780a"/><circle cx="107.45" cy="375.23" r="9.62" fill="#217b0d"/><rect x="120.30" y="362.70" width="26.30" height="26.26" fill="#358508"/><circle cx="133.15" cy="375.23" r="9.62" fill="#398a0d"/><rect x="146.00" y="362.70" width="26.30" height="26.26" fill="#050505"/><path d="M146.40,362.70 V388.36" stroke="#242424" stroke-width="0.8"/><path d="M151.14,378.61 C149.08,370.40 157.56,365.27 168.10,372.96 L160.13,378.10 L155.00,381.18 Z" fill="#1e1e8c"/><ellipse cx="152.17" cy="376.04" rx="1.1" ry="2.6" fill="#d0a8e8" opacity="0.8"/><path d="M146.00,362.70 L171.70,388.36 M171.70,362.70 L146.00,388.36" stroke="#cca6aa" stroke-width="0.95" fill="none"/><rect x="171.70" y="362.70" width="26.30" height="26.26" fill="#4e920a"/><circle cx="184.55" cy="375.23" r="9.62" fill="#51960f"/><rect x="197.40" y="362.70" width="26.30" height="26.26" fill="#4e920a"/><circle cx="210.25" cy="375.23" r="9.62" fill="#51960f"/><rect x="223.10" y="362.70" width="26.30" height="26.26" fill="#050505"/><path d="M223.50,362.70 V388.36" stroke="#242424" stroke-width="0.8"/><path d="M231.32,368.35 L239.03,375.02" stroke="#b030c8" stroke-width="2.4" stroke-linecap="round"/><path d="M238.52,375.53 L245.20,380.15" stroke="#4a20c0" stroke-width="2.2" stroke-linecap="round"/><path d="M223.10,362.70 L248.80,388.36 M248.80,362.70 L223.10,388.36" stroke="#cca6aa" stroke-width="0.95" fill="none"/><rect x="248.80" y="362.70" width="26.30" height="26.26" fill="#0b700b"/><circle cx="261.65" cy="375.23" r="9.62" fill="#0e730e"/><rect x="274.50" y="362.70" width="25.70" height="26.26" fill="#358508"/><circle cx="287.35" cy="375.23" r="9.62" fill="#398a0d"/><rect x="43.20" y="388.36" width="26.30" height="25.66" fill="#0b700b"/><circle cx="56.05" cy="400.89" r="9.62" fill="#0e730e"/><rect x="68.90" y="388.36" width="26.30" height="25.66" fill="#1e780a"/><circle cx="81.75" cy="400.89" r="9.62" fill="#217b0d"/><rect x="94.60" y="388.36" width="26.30" height="25.66" fill="#050505"/><path d="M95.00,388.36 V414.02" stroke="#242424" stroke-width="0.8"/><path d="M94.60,388.36 L120.30,414.02 M120.30,388.36 L94.60,414.02" stroke="#cca6aa" stroke-width="0.95" fill="none"/><rect x="120.30" y="388.36" width="26.30" height="25.66" fill="#050505"/><path d="M120.70,388.36 V414.02" stroke="#242424" stroke-width="0.8"/><path d="M120.30,388.36 L146.00,414.02 M146.00,388.36 L120.30,414.02" stroke="#cca6aa" stroke-width="0.95" fill="none"/><rect x="146.00" y="388.36" width="26.30" height="25.66" fill="#050505"/><path d="M146.40,388.36 V414.02" stroke="#242424" stroke-width="0.8"/><path d="M146.00,388.36 L171.70,414.02 M171.70,388.36 L146.00,414.02" stroke="#cca6aa" stroke-width="0.95" fill="none"/><rect x="171.70" y="388.36" width="26.30" height="25.66" fill="#050505"/><path d="M172.10,388.36 V414.02" stroke="#242424" stroke-width="0.8"/><path d="M171.70,388.36 L197.40,414.02 M197.40,388.36 L171.70,414.02" stroke="#cca6aa" stroke-width="0.95" fill="none"/><rect x="197.40" y="388.36" width="26.30" height="25.66" fill="#050505"/><path d="M197.80,388.36 V414.02" stroke="#242424" stroke-width="0.8"/><path d="M197.40,388.36 L223.10,414.02 M223.10,388.36 L197.40,414.02" stroke="#cca6aa" stroke-width="0.95" fill="none"/><rect x="223.10" y="388.36" width="26.30" height="25.66" fill="#050505"/><path d="M223.50,388.36 V414.02" stroke="#242424" stroke-width="0.8"/><path d="M223.10,388.36 L248.80,414.02 M248.80,388.36 L223.10,414.02" stroke="#cca6aa" stroke-width="0.95" fill="none"/><rect x="248.80" y="388.36" width="26.30" height="25.66" fill="#050505"/><path d="M249.20,388.36 V414.02" stroke="#242424" stroke-width="0.8"/><path d="M248.80,388.36 L274.50,414.02 M274.50,388.36 L248.80,414.02" stroke="#cca6aa" stroke-width="0.95" fill="none"/><rect x="274.50" y="388.36" width="25.70" height="25.66" fill="#050505"/><path d="M274.90,388.36 V414.02" stroke="#242424" stroke-width="0.8"/><path d="M274.50,388.36 L300.20,414.02 M300.20,388.36 L274.50,414.02" stroke="#cca6aa" stroke-width="0.95" fill="none"/><g filter="url(#speck)"><circle cx="56.05" cy="298.25" r="9.62" fill="#127711"/><circle cx="81.75" cy="298.25" r="9.62" fill="#3e9013"/><circle cx="107.45" cy="298.25" r="9.62" fill="#127711"/><circle cx="133.15" cy="298.25" r="9.62" fill="#3e9013"/><circle cx="158.85" cy="298.25" r="9.62" fill="#127711"/><circle cx="184.55" cy="298.25" r="9.62" fill="#3e9013"/><circle cx="210.25" cy="298.25" r="9.62" fill="#127711"/><circle cx="235.95" cy="298.25" r="9.62" fill="#127711"/><circle cx="261.65" cy="298.25" r="9.62" fill="#127711"/><circle cx="56.05" cy="323.91" r="9.62" fill="#247e10"/><circle cx="81.75" cy="323.91" r="9.62" fill="#127711"/><circle cx="107.45" cy="323.91" r="9.62" fill="#88b418"/><circle cx="133.15" cy="323.91" r="9.62" fill="#e22217"/><circle cx="158.85" cy="323.91" r="9.62" fill="#247e10"/><circle cx="184.55" cy="323.91" r="9.62" fill="#3e9013"/><circle cx="210.25" cy="323.91" r="9.62" fill="#247e10"/><circle cx="235.95" cy="323.91" r="9.62" fill="#247e10"/><circle cx="261.65" cy="323.91" r="9.62" fill="#247e10"/><circle cx="287.35" cy="323.91" r="9.62" fill="#a6c41e"/><circle cx="56.05" cy="349.57" r="9.62" fill="#b8cd1f"/><circle cx="81.75" cy="349.57" r="9.62" fill="#6faa18"/><circle cx="107.45" cy="349.57" r="9.62" fill="#6faa18"/><circle cx="133.15" cy="349.57" r="9.62" fill="#d7d622"/><circle cx="158.85" cy="349.57" r="9.62" fill="#6faa18"/><circle cx="184.55" cy="349.57" r="9.62" fill="#3e9013"/><circle cx="210.25" cy="349.57" r="9.62" fill="#247e10"/><circle cx="235.95" cy="349.57" r="9.62" fill="#a6c41e"/><circle cx="261.65" cy="349.57" r="9.62" fill="#127711"/><circle cx="287.35" cy="349.57" r="9.62" fill="#d7d622"/><circle cx="56.05" cy="375.23" r="9.62" fill="#127711"/><circle cx="81.75" cy="375.23" r="9.62" fill="#247e10"/><circle cx="107.45" cy="375.23" r="9.62" fill="#247e10"/><circle cx="133.15" cy="375.23" r="9.62" fill="#3e9013"/><circle cx="184.55" cy="375.23" r="9.62" fill="#549c15"/><circle cx="210.25" cy="375.23" r="9.62" fill="#549c15"/><circle cx="261.65" cy="375.23" r="9.62" fill="#127711"/><circle cx="287.35" cy="375.23" r="9.62" fill="#3e9013"/><circle cx="56.05" cy="400.89" r="9.62" fill="#127711"/><circle cx="81.75" cy="400.89" r="9.62" fill="#247e10"/></g><path d="M97.20,394.36 Q95.20,400.36 97.00,407.36" stroke="#44288c" stroke-width="1.1" fill="none"/><circle cx="100.10" cy="399.36" r="0.6" fill="#20a0a0"/><ellipse cx="128.30" cy="405.86" rx="2.6" ry="1.4" fill="#1a1f78" transform="rotate(-35 128.30 405.86)"/><ellipse cx="282.50" cy="394.36" rx="1.6" ry="0.8" fill="#1a2288" transform="rotate(-35 282.50 394.36)"/><text x="24.30" y="356.22" class="lab" text-anchor="middle">CD56</text><rect x="308.00" y="285.90" width="45.00" height="127.70" fill="#333333"/><rect x="311.00" y="288.90" width="5.2" height="4.4" fill="#000000"/><text x="319.40" y="292.85" class="lt" style="font-size:4.85px">&gt; 67.414719</text><rect x="311.00" y="296.04" width="5.2" height="4.4" fill="#ff0000"/><text x="319.40" y="299.99" class="lt" style="font-size:4.85px">67.414719</text><rect x="311.00" y="303.18" width="5.2" height="4.4" fill="#ff2000"/><text x="319.40" y="307.12" class="lt" style="font-size:4.85px">62.603143</text><rect x="311.00" y="310.31" width="5.2" height="4.4" fill="#ff4500"/><text x="319.40" y="314.26" class="lt" style="font-size:4.85px">57.791566</text><rect x="311.00" y="317.45" width="5.2" height="4.4" fill="#ff6a00"/><text x="319.40" y="321.40" class="lt" style="font-size:4.85px">52.97999</text><rect x="311.00" y="324.59" width="5.2" height="4.4" fill="#ff9000"/><text x="319.40" y="328.54" class="lt" style="font-size:4.85px">48.168413</text><rect x="311.00" y="331.73" width="5.2" height="4.4" fill="#ffb800"/><text x="319.40" y="335.68" class="lt" style="font-size:4.85px">43.356837</text><rect x="311.00" y="338.86" width="5.2" height="4.4" fill="#ffdf00"/><text x="319.40" y="342.81" class="lt" style="font-size:4.85px">38.54526</text><rect x="311.00" y="346.00" width="5.2" height="4.4" fill="#ffff00"/><text x="319.40" y="349.95" class="lt" style="font-size:4.85px">33.733684</text><rect x="311.00" y="353.14" width="5.2" height="4.4" fill="#e1f000"/><text x="319.40" y="357.09" class="lt" style="font-size:4.85px">28.922108</text><rect x="311.00" y="360.28" width="5.2" height="4.4" fill="#c3e200"/><text x="319.40" y="364.23" class="lt" style="font-size:4.85px">24.110531</text><rect x="311.00" y="367.41" width="5.2" height="4.4" fill="#a5d300"/><text x="319.40" y="371.36" class="lt" style="font-size:4.85px">19.298955</text><rect x="311.00" y="374.55" width="5.2" height="4.4" fill="#81c100"/><text x="319.40" y="378.50" class="lt" style="font-size:4.85px">14.487378</text><rect x="311.00" y="381.69" width="5.2" height="4.4" fill="#56ab00"/><text x="319.40" y="385.64" class="lt" style="font-size:4.85px">9.6758019</text><rect x="311.00" y="388.82" width="5.2" height="4.4" fill="#2b9600"/><text x="319.40" y="392.77" class="lt" style="font-size:4.85px">4.8642254</text><rect x="311.00" y="395.96" width="5.2" height="4.4" fill="#008000"/><text x="319.40" y="399.91" class="lt" style="font-size:4.85px">0.052649</text><rect x="311.00" y="403.10" width="5.2" height="4.4" fill="#ffffff"/><text x="319.40" y="407.05" class="lt" style="font-size:4.85px">&lt; 0.052649</text><rect x="358.00" y="296.30" width="26.40" height="26.10" fill="#4e920a"/><circle cx="370.90" cy="308.75" r="9.56" fill="#559d16"/><rect x="383.80" y="296.30" width="26.40" height="26.10" fill="#358508"/><circle cx="396.70" cy="308.75" r="9.56" fill="#3f9114"/><rect x="409.60" y="296.30" width="26.40" height="26.10" fill="#0b700b"/><circle cx="422.50" cy="308.75" r="9.56" fill="#137811"/><rect x="435.40" y="296.30" width="26.40" height="26.10" fill="#1e780a"/><circle cx="448.30" cy="308.75" r="9.56" fill="#247f10"/><rect x="461.20" y="296.30" width="26.40" height="26.10" fill="#4e920a"/><circle cx="474.10" cy="308.75" r="9.56" fill="#559d16"/><rect x="487.00" y="296.30" width="26.40" height="26.10" fill="#4e920a"/><circle cx="499.90" cy="308.75" r="9.56" fill="#559d16"/><rect x="512.80" y="296.30" width="26.40" height="26.10" fill="#0b700b"/><circle cx="525.70" cy="308.75" r="9.56" fill="#137811"/><rect x="538.60" y="296.30" width="26.40" height="26.10" fill="#0b700b"/><circle cx="551.50" cy="308.75" r="9.56" fill="#137811"/><rect x="564.40" y="296.30" width="26.40" height="26.10" fill="#0b700b"/><circle cx="577.30" cy="308.75" r="9.56" fill="#137811"/><rect x="590.20" y="296.30" width="25.80" height="26.10" fill="#4e920a"/><circle cx="603.10" cy="308.75" r="9.56" fill="#559d16"/><rect x="358.00" y="321.80" width="26.40" height="26.10" fill="#0b700b"/><circle cx="370.90" cy="334.25" r="9.56" fill="#137811"/><rect x="383.80" y="321.80" width="26.40" height="26.10" fill="#0b700b"/><circle cx="396.70" cy="334.25" r="9.56" fill="#137811"/><rect x="409.60" y="321.80" width="26.40" height="26.10" fill="#0b700b"/><circle cx="422.50" cy="334.25" r="9.56" fill="#137811"/><rect x="435.40" y="321.80" width="26.40" height="26.10" fill="#0b700b"/><circle cx="448.30" cy="334.25" r="9.56" fill="#137811"/><rect x="461.20" y="321.80" width="26.40" height="26.10" fill="#0b700b"/><circle cx="474.10" cy="334.25" r="9.56" fill="#137811"/><rect x="487.00" y="321.80" width="26.40" height="26.10" fill="#0b700b"/><circle cx="499.90" cy="334.25" r="9.56" fill="#137811"/><rect x="512.80" y="321.80" width="26.40" height="26.10" fill="#0b700b"/><circle cx="525.70" cy="334.25" r="9.56" fill="#137811"/><rect x="538.60" y="321.80" width="26.40" height="26.10" fill="#358508"/><circle cx="551.50" cy="334.25" r="9.56" fill="#3f9114"/><rect x="564.40" y="321.80" width="26.40" height="26.10" fill="#0b700b"/><circle cx="577.30" cy="334.25" r="9.56" fill="#137811"/><rect x="590.20" y="321.80" width="25.80" height="26.10" fill="#dc8018"/><circle cx="603.10" cy="334.25" r="9.56" fill="#e18a25"/><rect x="358.00" y="347.30" width="26.40" height="26.10" fill="#a8bc10"/><circle cx="370.90" cy="359.75" r="9.56" fill="#a6c51f"/><rect x="383.80" y="347.30" width="26.40" height="26.10" fill="#86aa0a"/><circle cx="396.70" cy="359.75" r="9.56" fill="#88b51a"/><rect x="409.60" y="347.30" width="26.40" height="26.10" fill="#86aa0a"/><circle cx="422.50" cy="359.75" r="9.56" fill="#88b51a"/><rect x="435.40" y="347.30" width="26.40" height="26.10" fill="#cacc13"/><circle cx="448.30" cy="359.75" r="9.56" fill="#d1d324"/><rect x="461.20" y="347.30" width="26.40" height="26.10" fill="#dc6418"/><circle cx="474.10" cy="359.75" r="9.56" fill="#e17225"/><rect x="487.00" y="347.30" width="26.40" height="26.10" fill="#d6b618"/><circle cx="499.90" cy="359.75" r="9.56" fill="#dcc028"/><rect x="512.80" y="347.30" width="26.40" height="26.10" fill="#dc9119"/><circle cx="525.70" cy="359.75" r="9.56" fill="#e19826"/><rect x="538.60" y="347.30" width="26.40" height="26.10" fill="#dd5a18"/><circle cx="551.50" cy="359.75" r="9.56" fill="#e15e1d"/><rect x="564.40" y="347.30" width="26.40" height="26.10" fill="#4e920a"/><circle cx="577.30" cy="359.75" r="9.56" fill="#559d16"/><rect x="590.20" y="347.30" width="25.80" height="26.10" fill="#de1612"/><circle cx="603.10" cy="359.75" r="9.56" fill="#e22318"/><rect x="358.00" y="372.80" width="26.40" height="25.50" fill="#dc9119"/><circle cx="370.90" cy="385.25" r="9.56" fill="#e19826"/><rect x="383.80" y="372.80" width="26.40" height="25.50" fill="#de3616"/><circle cx="396.70" cy="385.25" r="9.56" fill="#e23f1b"/><rect x="409.60" y="372.80" width="26.40" height="25.50" fill="#9ab50e"/><circle cx="422.50" cy="385.25" r="9.56" fill="#9abf1d"/><rect x="435.40" y="372.80" width="26.40" height="25.50" fill="#de3616"/><circle cx="448.30" cy="385.25" r="9.56" fill="#e23f1b"/><rect x="461.20" y="372.80" width="26.40" height="25.50" fill="#050505"/><path d="M461.60,372.80 V398.30" stroke="#242424" stroke-width="0.8"/><path d="M461.20,372.80 L487.00,398.30 M487.00,372.80 L461.20,398.30" stroke="#e6b2ba" stroke-width="1.25" fill="none"/><rect x="487.00" y="372.80" width="26.40" height="25.50" fill="#050505"/><path d="M487.40,372.80 V398.30" stroke="#242424" stroke-width="0.8"/><path d="M487.00,372.80 L512.80,398.30 M512.80,372.80 L487.00,398.30" stroke="#e6b2ba" stroke-width="1.25" fill="none"/><rect x="512.80" y="372.80" width="26.40" height="25.50" fill="#050505"/><path d="M513.20,372.80 V398.30" stroke="#242424" stroke-width="0.8"/><path d="M512.80,372.80 L538.60,398.30 M538.60,372.80 L512.80,398.30" stroke="#e6b2ba" stroke-width="1.25" fill="none"/><rect x="538.60" y="372.80" width="26.40" height="25.50" fill="#050505"/><path d="M539.00,372.80 V398.30" stroke="#242424" stroke-width="0.8"/><path d="M538.60,372.80 L564.40,398.30 M564.40,372.80 L538.60,398.30" stroke="#e6b2ba" stroke-width="1.25" fill="none"/><rect x="564.40" y="372.80" width="26.40" height="25.50" fill="#050505"/><path d="M564.80,372.80 V398.30" stroke="#242424" stroke-width="0.8"/><path d="M564.40,372.80 L590.20,398.30 M590.20,372.80 L564.40,398.30" stroke="#e6b2ba" stroke-width="1.25" fill="none"/><rect x="590.20" y="372.80" width="25.80" height="25.50" fill="#050505"/><path d="M590.60,372.80 V398.30" stroke="#242424" stroke-width="0.8"/><path d="M590.20,372.80 L616.00,398.30 M616.00,372.80 L590.20,398.30" stroke="#e6b2ba" stroke-width="1.25" fill="none"/><g filter="url(#speck)"><circle cx="370.90" cy="308.75" r="9.56" fill="#5eab25"/><circle cx="396.70" cy="308.75" r="9.56" fill="#4ba023"/><circle cx="422.50" cy="308.75" r="9.56" fill="#1c8119"/><circle cx="448.30" cy="308.75" r="9.56" fill="#2c8818"/><circle cx="474.10" cy="308.75" r="9.56" fill="#5eab25"/><circle cx="499.90" cy="308.75" r="9.56" fill="#5eab25"/><circle cx="525.70" cy="308.75" r="9.56" fill="#1c8119"/><circle cx="551.50" cy="308.75" r="9.56" fill="#1c8119"/><circle cx="577.30" cy="308.75" r="9.56" fill="#1c8119"/><circle cx="603.10" cy="308.75" r="9.56" fill="#5eab25"/><circle cx="370.90" cy="334.25" r="9.56" fill="#1c8119"/><circle cx="396.70" cy="334.25" r="9.56" fill="#1c8119"/><circle cx="422.50" cy="334.25" r="9.56" fill="#1c8119"/><circle cx="448.30" cy="334.25" r="9.56" fill="#1c8119"/><circle cx="474.10" cy="334.25" r="9.56" fill="#1c8119"/><circle cx="499.90" cy="334.25" r="9.56" fill="#1c8119"/><circle cx="525.70" cy="334.25" r="9.56" fill="#1c8119"/><circle cx="551.50" cy="334.25" r="9.56" fill="#4ba023"/><circle cx="577.30" cy="334.25" r="9.56" fill="#1c8119"/><circle cx="603.10" cy="334.25" r="9.56" fill="#e69635"/><circle cx="370.90" cy="359.75" r="9.56" fill="#a3d032"/><circle cx="396.70" cy="359.75" r="9.56" fill="#8bc42e"/><circle cx="422.50" cy="359.75" r="9.56" fill="#8bc42e"/><circle cx="448.30" cy="359.75" r="9.56" fill="#dadb37"/><circle cx="474.10" cy="359.75" r="9.56" fill="#e68235"/><circle cx="499.90" cy="359.75" r="9.56" fill="#e2cc3b"/><circle cx="525.70" cy="359.75" r="9.56" fill="#e6a236"/><circle cx="551.50" cy="359.75" r="9.56" fill="#e76323"/><circle cx="577.30" cy="359.75" r="9.56" fill="#5eab25"/><circle cx="603.10" cy="359.75" r="9.56" fill="#e8331f"/><circle cx="370.90" cy="385.25" r="9.56" fill="#e6a236"/><circle cx="396.70" cy="385.25" r="9.56" fill="#e84a22"/><circle cx="422.50" cy="385.25" r="9.56" fill="#99cb31"/><circle cx="448.30" cy="385.25" r="9.56" fill="#e84a22"/></g><path d="M461.70,380.80 Q462.70,374.30 472.20,373.40" stroke="#14146e" stroke-width="1.2" fill="none" stroke-linecap="round" opacity="0.85"/><rect x="620.00" y="286.10" width="45.00" height="127.70" fill="#333333"/><rect x="624.40" y="289.70" width="5.2" height="4.4" fill="#000000"/><text x="633.20" y="293.63" class="lt" style="font-size:4.8px">&gt; 97.800682</text><rect x="624.40" y="297.03" width="5.2" height="4.4" fill="#ff0000"/><text x="633.20" y="300.96" class="lt" style="font-size:4.8px">97.800682</text><rect x="624.40" y="304.36" width="5.2" height="4.4" fill="#ff2000"/><text x="633.20" y="308.29" class="lt" style="font-size:4.8px">90.824312</text><rect x="624.40" y="311.69" width="5.2" height="4.4" fill="#ff4500"/><text x="633.20" y="315.63" class="lt" style="font-size:4.8px">83.847943</text><rect x="624.40" y="319.02" width="5.2" height="4.4" fill="#ff6a00"/><text x="633.20" y="322.96" class="lt" style="font-size:4.8px">76.871573</text><rect x="624.40" y="326.36" width="5.2" height="4.4" fill="#ff9000"/><text x="633.20" y="330.29" class="lt" style="font-size:4.8px">69.895203</text><rect x="624.40" y="333.69" width="5.2" height="4.4" fill="#ffb800"/><text x="633.20" y="337.62" class="lt" style="font-size:4.8px">62.918833</text><rect x="624.40" y="341.02" width="5.2" height="4.4" fill="#ffdf00"/><text x="633.20" y="344.95" class="lt" style="font-size:4.8px">55.942464</text><rect x="624.40" y="348.35" width="5.2" height="4.4" fill="#ffff00"/><text x="633.20" y="352.28" class="lt" style="font-size:4.8px">48.966094</text><rect x="624.40" y="355.68" width="5.2" height="4.4" fill="#e1f000"/><text x="633.20" y="359.61" class="lt" style="font-size:4.8px">41.989724</text><rect x="624.40" y="363.01" width="5.2" height="4.4" fill="#c3e200"/><text x="633.20" y="366.94" class="lt" style="font-size:4.8px">35.013355</text><rect x="624.40" y="370.34" width="5.2" height="4.4" fill="#a5d300"/><text x="633.20" y="374.28" class="lt" style="font-size:4.8px">28.036985</text><rect x="624.40" y="377.68" width="5.2" height="4.4" fill="#81c100"/><text x="633.20" y="381.61" class="lt" style="font-size:4.8px">21.060615</text><rect x="624.40" y="385.01" width="5.2" height="4.4" fill="#56ab00"/><text x="633.20" y="388.94" class="lt" style="font-size:4.8px">14.084245</text><rect x="624.40" y="392.34" width="5.2" height="4.4" fill="#2b9600"/><text x="633.20" y="396.27" class="lt" style="font-size:4.8px">7.1078757</text><rect x="624.40" y="399.67" width="5.2" height="4.4" fill="#008000"/><text x="633.20" y="403.60" class="lt" style="font-size:4.8px">0.131506</text><rect x="624.40" y="407.00" width="5.2" height="4.4" fill="#ffffff"/><text x="633.20" y="410.93" class="lt" style="font-size:4.8px">&lt; 0.131506</text><rect x="43.20" y="417.78" width="26.30" height="26.26" fill="#0b700b"/><circle cx="56.05" cy="430.31" r="9.62" fill="#0e730e"/><rect x="68.90" y="417.78" width="26.30" height="26.26" fill="#0b700b"/><circle cx="81.75" cy="430.31" r="9.62" fill="#0e730e"/><rect x="94.60" y="417.78" width="26.30" height="26.26" fill="#0b700b"/><circle cx="107.45" cy="430.31" r="9.62" fill="#0e730e"/><rect x="120.30" y="417.78" width="26.30" height="26.26" fill="#0b700b"/><circle cx="133.15" cy="430.31" r="9.62" fill="#0e730e"/><rect x="146.00" y="417.78" width="26.30" height="26.26" fill="#0b700b"/><circle cx="158.85" cy="430.31" r="9.62" fill="#0e730e"/><rect x="171.70" y="417.78" width="26.30" height="26.26" fill="#0b700b"/><circle cx="184.55" cy="430.31" r="9.62" fill="#0e730e"/><rect x="197.40" y="417.78" width="26.30" height="26.26" fill="#0b700b"/><circle cx="210.25" cy="430.31" r="9.62" fill="#0e730e"/><rect x="223.10" y="417.78" width="26.30" height="26.26" fill="#0b700b"/><circle cx="235.95" cy="430.31" r="9.62" fill="#0e730e"/><rect x="248.80" y="417.78" width="26.30" height="26.26" fill="#0b700b"/><circle cx="261.65" cy="430.31" r="9.62" fill="#0e730e"/><rect x="274.50" y="417.78" width="25.70" height="26.26" fill="#050505"/><path d="M274.90,417.78 V443.44" stroke="#242424" stroke-width="0.8"/><path d="M281.44,427.02 C281.44,419.83 293.77,420.35 293.26,428.56 C293.00,433.69 289.92,438.31 287.86,440.87 C286.06,437.28 281.44,433.18 281.44,427.02 Z" fill="#20208a"/><ellipse cx="286.06" cy="433.69" rx="2.06" ry="5.13" fill="#9a9ad8" opacity="0.55"/><path d="M274.50,417.78 L300.20,443.44 M300.20,417.78 L274.50,443.44" stroke="#cca6aa" stroke-width="0.95" fill="none"/><rect x="43.20" y="443.44" width="26.30" height="26.26" fill="#dca21a"/><circle cx="56.05" cy="455.97" r="9.62" fill="#dea41f"/><rect x="68.90" y="443.44" width="26.30" height="26.26" fill="#358508"/><circle cx="81.75" cy="455.97" r="9.62" fill="#398a0d"/><rect x="94.60" y="443.44" width="26.30" height="26.26" fill="#dc6418"/><circle cx="107.45" cy="455.97" r="9.62" fill="#de691d"/><rect x="120.30" y="443.44" width="26.30" height="26.26" fill="#dc6418"/><circle cx="133.15" cy="455.97" r="9.62" fill="#de691d"/><rect x="146.00" y="443.44" width="26.30" height="26.26" fill="#0b700b"/><circle cx="158.85" cy="455.97" r="9.62" fill="#0e730e"/><rect x="171.70" y="443.44" width="26.30" height="26.26" fill="#0b700b"/><circle cx="184.55" cy="455.97" r="9.62" fill="#0e730e"/><rect x="197.40" y="443.44" width="26.30" height="26.26" fill="#0b700b"/><circle cx="210.25" cy="455.97" r="9.62" fill="#0e730e"/><rect x="223.10" y="443.44" width="26.30" height="26.26" fill="#0b700b"/><circle cx="235.95" cy="455.97" r="9.62" fill="#0e730e"/><rect x="248.80" y="443.44" width="26.30" height="26.26" fill="#0b700b"/><circle cx="261.65" cy="455.97" r="9.62" fill="#0e730e"/><rect x="274.50" y="443.44" width="25.70" height="26.26" fill="#0b700b"/><circle cx="287.35" cy="455.97" r="9.62" fill="#0e730e"/><rect x="43.20" y="469.10" width="26.30" height="26.26" fill="#1e780a"/><circle cx="56.05" cy="481.63" r="9.62" fill="#217b0d"/><rect x="68.90" y="469.10" width="26.30" height="26.26" fill="#86aa0a"/><circle cx="81.75" cy="481.63" r="9.62" fill="#87af10"/><rect x="94.60" y="469.10" width="26.30" height="26.26" fill="#86aa0a"/><circle cx="107.45" cy="481.63" r="9.62" fill="#87af10"/><rect x="120.30" y="469.10" width="26.30" height="26.26" fill="#de1612"/><circle cx="133.15" cy="481.63" r="9.62" fill="#e01b14"/><rect x="146.00" y="469.10" width="26.30" height="26.26" fill="#0b700b"/><circle cx="158.85" cy="481.63" r="9.62" fill="#0e730e"/><rect x="171.70" y="469.10" width="26.30" height="26.26" fill="#0b700b"/><circle cx="184.55" cy="481.63" r="9.62" fill="#0e730e"/><rect x="197.40" y="469.10" width="26.30" height="26.26" fill="#358508"/><circle cx="210.25" cy="481.63" r="9.62" fill="#398a0d"/><rect x="223.10" y="469.10" width="26.30" height="26.26" fill="#0b700b"/><circle cx="235.95" cy="481.63" r="9.62" fill="#0e730e"/><rect x="248.80" y="469.10" width="26.30" height="26.26" fill="#0b700b"/><circle cx="261.65" cy="481.63" r="9.62" fill="#0e730e"/><rect x="274.50" y="469.10" width="25.70" height="26.26" fill="#0b700b"/><circle cx="287.35" cy="481.63" r="9.62" fill="#0e730e"/><rect x="43.20" y="494.76" width="26.30" height="26.26" fill="#1e780a"/><circle cx="56.05" cy="507.29" r="9.62" fill="#217b0d"/><rect x="68.90" y="494.76" width="26.30" height="26.26" fill="#1e780a"/><circle cx="81.75" cy="507.29" r="9.62" fill="#217b0d"/><rect x="94.60" y="494.76" width="26.30" height="26.26" fill="#a8bc10"/><circle cx="107.45" cy="507.29" r="9.62" fill="#a7c016"/><rect x="120.30" y="494.76" width="26.30" height="26.26" fill="#d2d014"/><circle cx="133.15" cy="507.29" r="9.62" fill="#d4d31a"/><rect x="146.00" y="494.76" width="26.30" height="26.26" fill="#050505"/><path d="M146.40,494.76 V520.42" stroke="#242424" stroke-width="0.8"/><path d="M151.14,510.67 C149.08,502.46 157.56,497.33 168.10,505.02 L160.13,510.16 L155.00,513.24 Z" fill="#1e1e8c"/><ellipse cx="152.17" cy="508.10" rx="1.1" ry="2.6" fill="#d0a8e8" opacity="0.8"/><path d="M146.00,494.76 L171.70,520.42 M171.70,494.76 L146.00,520.42" stroke="#cca6aa" stroke-width="0.95" fill="none"/><rect x="171.70" y="494.76" width="26.30" height="26.26" fill="#0b700b"/><circle cx="184.55" cy="507.29" r="9.62" fill="#0e730e"/><rect x="197.40" y="494.76" width="26.30" height="26.26" fill="#86aa0a"/><circle cx="210.25" cy="507.29" r="9.62" fill="#87af10"/><rect x="223.10" y="494.76" width="26.30" height="26.26" fill="#050505"/><path d="M223.50,494.76 V520.42" stroke="#242424" stroke-width="0.8"/><path d="M231.32,500.41 L239.03,507.08" stroke="#b030c8" stroke-width="2.4" stroke-linecap="round"/><path d="M238.52,507.59 L245.20,512.21" stroke="#4a20c0" stroke-width="2.2" stroke-linecap="round"/><path d="M223.10,494.76 L248.80,520.42 M248.80,494.76 L223.10,520.42" stroke="#cca6aa" stroke-width="0.95" fill="none"/><rect x="248.80" y="494.76" width="26.30" height="26.26" fill="#0b700b"/><circle cx="261.65" cy="507.29" r="9.62" fill="#0e730e"/><rect x="274.50" y="494.76" width="25.70" height="26.26" fill="#0b700b"/><circle cx="287.35" cy="507.29" r="9.62" fill="#0e730e"/><rect x="43.20" y="520.42" width="26.30" height="25.66" fill="#0b700b"/><circle cx="56.05" cy="532.95" r="9.62" fill="#0e730e"/><rect x="68.90" y="520.42" width="26.30" height="25.66" fill="#a8bc10"/><circle cx="81.75" cy="532.95" r="9.62" fill="#a7c016"/><rect x="94.60" y="520.42" width="26.30" height="25.66" fill="#050505"/><path d="M95.00,520.42 V546.08" stroke="#242424" stroke-width="0.8"/><path d="M94.60,520.42 L120.30,546.08 M120.30,520.42 L94.60,546.08" stroke="#cca6aa" stroke-width="0.95" fill="none"/><rect x="120.30" y="520.42" width="26.30" height="25.66" fill="#050505"/><path d="M120.70,520.42 V546.08" stroke="#242424" stroke-width="0.8"/><path d="M120.30,520.42 L146.00,546.08 M146.00,520.42 L120.30,546.08" stroke="#cca6aa" stroke-width="0.95" fill="none"/><rect x="146.00" y="520.42" width="26.30" height="25.66" fill="#050505"/><path d="M146.40,520.42 V546.08" stroke="#242424" stroke-width="0.8"/><path d="M146.00,520.42 L171.70,546.08 M171.70,520.42 L146.00,546.08" stroke="#cca6aa" stroke-width="0.95" fill="none"/><rect x="171.70" y="520.42" width="26.30" height="25.66" fill="#050505"/><path d="M172.10,520.42 V546.08" stroke="#242424" stroke-width="0.8"/><path d="M171.70,520.42 L197.40,546.08 M197.40,520.42 L171.70,546.08" stroke="#cca6aa" stroke-width="0.95" fill="none"/><rect x="197.40" y="520.42" width="26.30" height="25.66" fill="#050505"/><path d="M197.80,520.42 V546.08" stroke="#242424" stroke-width="0.8"/><path d="M197.40,520.42 L223.10,546.08 M223.10,520.42 L197.40,546.08" stroke="#cca6aa" stroke-width="0.95" fill="none"/><rect x="223.10" y="520.42" width="26.30" height="25.66" fill="#050505"/><path d="M223.50,520.42 V546.08" stroke="#242424" stroke-width="0.8"/><path d="M223.10,520.42 L248.80,546.08 M248.80,520.42 L223.10,546.08" stroke="#cca6aa" stroke-width="0.95" fill="none"/><rect x="248.80" y="520.42" width="26.30" height="25.66" fill="#050505"/><path d="M249.20,520.42 V546.08" stroke="#242424" stroke-width="0.8"/><path d="M248.80,520.42 L274.50,546.08 M274.50,520.42 L248.80,546.08" stroke="#cca6aa" stroke-width="0.95" fill="none"/><rect x="274.50" y="520.42" width="25.70" height="25.66" fill="#050505"/><path d="M274.90,520.42 V546.08" stroke="#242424" stroke-width="0.8"/><path d="M274.50,520.42 L300.20,546.08 M300.20,520.42 L274.50,546.08" stroke="#cca6aa" stroke-width="0.95" fill="none"/><g filter="url(#speck)"><circle cx="56.05" cy="430.31" r="9.62" fill="#127711"/><circle cx="81.75" cy="430.31" r="9.62" fill="#127711"/><circle cx="107.45" cy="430.31" r="9.62" fill="#127711"/><circle cx="133.15" cy="430.31" r="9.62" fill="#127711"/><circle cx="158.85" cy="430.31" r="9.62" fill="#127711"/><circle cx="184.55" cy="430.31" r="9.62" fill="#127711"/><circle cx="210.25" cy="430.31" r="9.62" fill="#127711"/><circle cx="235.95" cy="430.31" r="9.62" fill="#127711"/><circle cx="261.65" cy="430.31" r="9.62" fill="#127711"/><circle cx="56.05" cy="455.97" r="9.62" fill="#e0a725"/><circle cx="81.75" cy="455.97" r="9.62" fill="#3e9013"/><circle cx="107.45" cy="455.97" r="9.62" fill="#e07024"/><circle cx="133.15" cy="455.97" r="9.62" fill="#e07024"/><circle cx="158.85" cy="455.97" r="9.62" fill="#127711"/><circle cx="184.55" cy="455.97" r="9.62" fill="#127711"/><circle cx="210.25" cy="455.97" r="9.62" fill="#127711"/><circle cx="235.95" cy="455.97" r="9.62" fill="#127711"/><circle cx="261.65" cy="455.97" r="9.62" fill="#127711"/><circle cx="287.35" cy="455.97" r="9.62" fill="#127711"/><circle cx="56.05" cy="481.63" r="9.62" fill="#247e10"/><circle cx="81.75" cy="481.63" r="9.62" fill="#88b418"/><circle cx="107.45" cy="481.63" r="9.62" fill="#88b418"/><circle cx="133.15" cy="481.63" r="9.62" fill="#e22217"/><circle cx="158.85" cy="481.63" r="9.62" fill="#127711"/><circle cx="184.55" cy="481.63" r="9.62" fill="#127711"/><circle cx="210.25" cy="481.63" r="9.62" fill="#3e9013"/><circle cx="235.95" cy="481.63" r="9.62" fill="#127711"/><circle cx="261.65" cy="481.63" r="9.62" fill="#127711"/><circle cx="287.35" cy="481.63" r="9.62" fill="#127711"/><circle cx="56.05" cy="507.29" r="9.62" fill="#247e10"/><circle cx="81.75" cy="507.29" r="9.62" fill="#247e10"/><circle cx="107.45" cy="507.29" r="9.62" fill="#a6c41e"/><circle cx="133.15" cy="507.29" r="9.62" fill="#d7d622"/><circle cx="184.55" cy="507.29" r="9.62" fill="#127711"/><circle cx="210.25" cy="507.29" r="9.62" fill="#88b418"/><circle cx="261.65" cy="507.29" r="9.62" fill="#127711"/><circle cx="287.35" cy="507.29" r="9.62" fill="#127711"/><circle cx="56.05" cy="532.95" r="9.62" fill="#127711"/><circle cx="81.75" cy="532.95" r="9.62" fill="#a6c41e"/></g><path d="M97.20,526.42 Q95.20,532.42 97.00,539.42" stroke="#44288c" stroke-width="1.1" fill="none"/><circle cx="100.10" cy="531.42" r="0.6" fill="#20a0a0"/><ellipse cx="128.30" cy="537.92" rx="2.6" ry="1.4" fill="#1a1f78" transform="rotate(-35 128.30 537.92)"/><ellipse cx="282.50" cy="526.42" rx="1.6" ry="0.8" fill="#1a2288" transform="rotate(-35 282.50 526.42)"/><text x="22.80" y="486.62" class="lab" text-anchor="middle">CD68</text><rect x="308.00" y="417.70" width="45.00" height="127.70" fill="#333333"/><rect x="311.00" y="422.10" width="5.2" height="4.4" fill="#000000"/><text x="319.40" y="426.05" class="lt" style="font-size:4.85px">&gt; 3.650707</text><rect x="311.00" y="429.13" width="5.2" height="4.4" fill="#ff0000"/><text x="319.40" y="433.08" class="lt" style="font-size:4.85px">3.650707</text><rect x="311.00" y="436.16" width="5.2" height="4.4" fill="#ff2000"/><text x="319.40" y="440.11" class="lt" style="font-size:4.85px">3.3899422</text><rect x="311.00" y="443.19" width="5.2" height="4.4" fill="#ff4500"/><text x="319.40" y="447.14" class="lt" style="font-size:4.85px">3.1291774</text><rect x="311.00" y="450.23" width="5.2" height="4.4" fill="#ff6a00"/><text x="319.40" y="454.18" class="lt" style="font-size:4.85px">2.8684126</text><rect x="311.00" y="457.26" width="5.2" height="4.4" fill="#ff9000"/><text x="319.40" y="461.21" class="lt" style="font-size:4.85px">2.6076479</text><rect x="311.00" y="464.29" width="5.2" height="4.4" fill="#ffb800"/><text x="319.40" y="468.24" class="lt" style="font-size:4.85px">2.3468831</text><rect x="311.00" y="471.32" width="5.2" height="4.4" fill="#ffdf00"/><text x="319.40" y="475.27" class="lt" style="font-size:4.85px">2.0861183</text><rect x="311.00" y="478.35" width="5.2" height="4.4" fill="#ffff00"/><text x="319.40" y="482.30" class="lt" style="font-size:4.85px">1.8253535</text><rect x="311.00" y="485.38" width="5.2" height="4.4" fill="#e1f000"/><text x="319.40" y="489.33" class="lt" style="font-size:4.85px">1.5645887</text><rect x="311.00" y="492.41" width="5.2" height="4.4" fill="#c3e200"/><text x="319.40" y="496.36" class="lt" style="font-size:4.85px">1.3038239</text><rect x="311.00" y="499.44" width="5.2" height="4.4" fill="#a5d300"/><text x="319.40" y="503.39" class="lt" style="font-size:4.85px">1.0430591</text><rect x="311.00" y="506.47" width="5.2" height="4.4" fill="#81c100"/><text x="319.40" y="510.42" class="lt" style="font-size:4.85px">0.78229436</text><rect x="311.00" y="513.51" width="5.2" height="4.4" fill="#56ab00"/><text x="319.40" y="517.46" class="lt" style="font-size:4.85px">0.52152957</text><rect x="311.00" y="520.54" width="5.2" height="4.4" fill="#2b9600"/><text x="319.40" y="524.49" class="lt" style="font-size:4.85px">0.26076479</text><rect x="311.00" y="527.57" width="5.2" height="4.4" fill="#008000"/><text x="319.40" y="531.52" class="lt" style="font-size:4.85px">0</text><rect x="311.00" y="534.60" width="5.2" height="4.4" fill="#ffffff"/><text x="319.40" y="538.55" class="lt" style="font-size:4.85px">&lt; 0</text><rect x="358.00" y="428.10" width="26.40" height="26.10" fill="#0b700b"/><circle cx="370.90" cy="440.55" r="9.56" fill="#137811"/><rect x="383.80" y="428.10" width="26.40" height="26.10" fill="#0b700b"/><circle cx="396.70" cy="440.55" r="9.56" fill="#137811"/><rect x="409.60" y="428.10" width="26.40" height="26.10" fill="#0b700b"/><circle cx="422.50" cy="440.55" r="9.56" fill="#137811"/><rect x="435.40" y="428.10" width="26.40" height="26.10" fill="#0b700b"/><circle cx="448.30" cy="440.55" r="9.56" fill="#137811"/><rect x="461.20" y="428.10" width="26.40" height="26.10" fill="#0b700b"/><circle cx="474.10" cy="440.55" r="9.56" fill="#137811"/><rect x="487.00" y="428.10" width="26.40" height="26.10" fill="#0b700b"/><circle cx="499.90" cy="440.55" r="9.56" fill="#137811"/><rect x="512.80" y="428.10" width="26.40" height="26.10" fill="#0b700b"/><circle cx="525.70" cy="440.55" r="9.56" fill="#137811"/><rect x="538.60" y="428.10" width="26.40" height="26.10" fill="#0b700b"/><circle cx="551.50" cy="440.55" r="9.56" fill="#137811"/><rect x="564.40" y="428.10" width="26.40" height="26.10" fill="#0b700b"/><circle cx="577.30" cy="440.55" r="9.56" fill="#137811"/><rect x="590.20" y="428.10" width="25.80" height="26.10" fill="#0b700b"/><circle cx="603.10" cy="440.55" r="9.56" fill="#137811"/><rect x="358.00" y="453.60" width="26.40" height="26.10" fill="#0b700b"/><circle cx="370.90" cy="466.05" r="9.56" fill="#137811"/><rect x="383.80" y="453.60" width="26.40" height="26.10" fill="#0b700b"/><circle cx="396.70" cy="466.05" r="9.56" fill="#137811"/><rect x="409.60" y="453.60" width="26.40" height="26.10" fill="#0b700b"/><circle cx="422.50" cy="466.05" r="9.56" fill="#137811"/><rect x="435.40" y="453.60" width="26.40" height="26.10" fill="#0b700b"/><circle cx="448.30" cy="466.05" r="9.56" fill="#137811"/><rect x="461.20" y="453.60" width="26.40" height="26.10" fill="#0b700b"/><circle cx="474.10" cy="466.05" r="9.56" fill="#137811"/><rect x="487.00" y="453.60" width="26.40" height="26.10" fill="#0b700b"/><circle cx="499.90" cy="466.05" r="9.56" fill="#137811"/><rect x="512.80" y="453.60" width="26.40" height="26.10" fill="#0b700b"/><circle cx="525.70" cy="466.05" r="9.56" fill="#137811"/><rect x="538.60" y="453.60" width="26.40" height="26.10" fill="#0b700b"/><circle cx="551.50" cy="466.05" r="9.56" fill="#137811"/><rect x="564.40" y="453.60" width="26.40" height="26.10" fill="#0b700b"/><circle cx="577.30" cy="466.05" r="9.56" fill="#137811"/><rect x="590.20" y="453.60" width="25.80" height="26.10" fill="#0b700b"/><circle cx="603.10" cy="466.05" r="9.56" fill="#137811"/><rect x="358.00" y="479.10" width="26.40" height="26.10" fill="#86aa0a"/><circle cx="370.90" cy="491.55" r="9.56" fill="#88b51a"/><rect x="383.80" y="479.10" width="26.40" height="26.10" fill="#4e920a"/><circle cx="396.70" cy="491.55" r="9.56" fill="#559d16"/><rect x="409.60" y="479.10" width="26.40" height="26.10" fill="#358508"/><circle cx="422.50" cy="491.55" r="9.56" fill="#3f9114"/><rect x="435.40" y="479.10" width="26.40" height="26.10" fill="#1e780a"/><circle cx="448.30" cy="491.55" r="9.56" fill="#247f10"/><rect x="461.20" y="479.10" width="26.40" height="26.10" fill="#de1612"/><circle cx="474.10" cy="491.55" r="9.56" fill="#e22318"/><rect x="487.00" y="479.10" width="26.40" height="26.10" fill="#1e780a"/><circle cx="499.90" cy="491.55" r="9.56" fill="#247f10"/><rect x="512.80" y="479.10" width="26.40" height="26.10" fill="#86aa0a"/><circle cx="525.70" cy="491.55" r="9.56" fill="#88b51a"/><rect x="538.60" y="479.10" width="26.40" height="26.10" fill="#498f0a"/><circle cx="551.50" cy="491.55" r="9.56" fill="#519b16"/><rect x="564.40" y="479.10" width="26.40" height="26.10" fill="#0b700b"/><circle cx="577.30" cy="491.55" r="9.56" fill="#137811"/><rect x="590.20" y="479.10" width="25.80" height="26.10" fill="#1e780a"/><circle cx="603.10" cy="491.55" r="9.56" fill="#247f10"/><rect x="358.00" y="504.60" width="26.40" height="25.50" fill="#d4c316"/><circle cx="370.90" cy="517.05" r="9.56" fill="#dacb26"/><rect x="383.80" y="504.60" width="26.40" height="25.50" fill="#d2d014"/><circle cx="396.70" cy="517.05" r="9.56" fill="#d8d624"/><rect x="409.60" y="504.60" width="26.40" height="25.50" fill="#0b700b"/><circle cx="422.50" cy="517.05" r="9.56" fill="#137811"/><rect x="435.40" y="504.60" width="26.40" height="25.50" fill="#4e920a"/><circle cx="448.30" cy="517.05" r="9.56" fill="#559d16"/><rect x="461.20" y="504.60" width="26.40" height="25.50" fill="#050505"/><path d="M461.60,504.60 V530.10" stroke="#242424" stroke-width="0.8"/><path d="M461.20,504.60 L487.00,530.10 M487.00,504.60 L461.20,530.10" stroke="#e6b2ba" stroke-width="1.25" fill="none"/><rect x="487.00" y="504.60" width="26.40" height="25.50" fill="#050505"/><path d="M487.40,504.60 V530.10" stroke="#242424" stroke-width="0.8"/><path d="M487.00,504.60 L512.80,530.10 M512.80,504.60 L487.00,530.10" stroke="#e6b2ba" stroke-width="1.25" fill="none"/><rect x="512.80" y="504.60" width="26.40" height="25.50" fill="#050505"/><path d="M513.20,504.60 V530.10" stroke="#242424" stroke-width="0.8"/><path d="M512.80,504.60 L538.60,530.10 M538.60,504.60 L512.80,530.10" stroke="#e6b2ba" stroke-width="1.25" fill="none"/><rect x="538.60" y="504.60" width="26.40" height="25.50" fill="#050505"/><path d="M539.00,504.60 V530.10" stroke="#242424" stroke-width="0.8"/><path d="M538.60,504.60 L564.40,530.10 M564.40,504.60 L538.60,530.10" stroke="#e6b2ba" stroke-width="1.25" fill="none"/><rect x="564.40" y="504.60" width="26.40" height="25.50" fill="#050505"/><path d="M564.80,504.60 V530.10" stroke="#242424" stroke-width="0.8"/><path d="M564.40,504.60 L590.20,530.10 M590.20,504.60 L564.40,530.10" stroke="#e6b2ba" stroke-width="1.25" fill="none"/><rect x="590.20" y="504.60" width="25.80" height="25.50" fill="#050505"/><path d="M590.60,504.60 V530.10" stroke="#242424" stroke-width="0.8"/><path d="M590.20,504.60 L616.00,530.10 M616.00,504.60 L590.20,530.10" stroke="#e6b2ba" stroke-width="1.25" fill="none"/><g filter="url(#speck)"><circle cx="370.90" cy="440.55" r="9.56" fill="#1c8119"/><circle cx="396.70" cy="440.55" r="9.56" fill="#1c8119"/><circle cx="422.50" cy="440.55" r="9.56" fill="#1c8119"/><circle cx="448.30" cy="440.55" r="9.56" fill="#1c8119"/><circle cx="474.10" cy="440.55" r="9.56" fill="#1c8119"/><circle cx="499.90" cy="440.55" r="9.56" fill="#1c8119"/><circle cx="525.70" cy="440.55" r="9.56" fill="#1c8119"/><circle cx="551.50" cy="440.55" r="9.56" fill="#1c8119"/><circle cx="577.30" cy="440.55" r="9.56" fill="#1c8119"/><circle cx="603.10" cy="440.55" r="9.56" fill="#1c8119"/><circle cx="370.90" cy="466.05" r="9.56" fill="#1c8119"/><circle cx="396.70" cy="466.05" r="9.56" fill="#1c8119"/><circle cx="422.50" cy="466.05" r="9.56" fill="#1c8119"/><circle cx="448.30" cy="466.05" r="9.56" fill="#1c8119"/><circle cx="474.10" cy="466.05" r="9.56" fill="#1c8119"/><circle cx="499.90" cy="466.05" r="9.56" fill="#1c8119"/><circle cx="525.70" cy="466.05" r="9.56" fill="#1c8119"/><circle cx="551.50" cy="466.05" r="9.56" fill="#1c8119"/><circle cx="577.30" cy="466.05" r="9.56" fill="#1c8119"/><circle cx="603.10" cy="466.05" r="9.56" fill="#1c8119"/><circle cx="370.90" cy="491.55" r="9.56" fill="#8bc42e"/><circle cx="396.70" cy="491.55" r="9.56" fill="#5eab25"/><circle cx="422.50" cy="491.55" r="9.56" fill="#4ba023"/><circle cx="448.30" cy="491.55" r="9.56" fill="#2c8818"/><circle cx="474.10" cy="491.55" r="9.56" fill="#e8331f"/><circle cx="499.90" cy="491.55" r="9.56" fill="#2c8818"/><circle cx="525.70" cy="491.55" r="9.56" fill="#8bc42e"/><circle cx="551.50" cy="491.55" r="9.56" fill="#5aa925"/><circle cx="577.30" cy="491.55" r="9.56" fill="#1c8119"/><circle cx="603.10" cy="491.55" r="9.56" fill="#2c8818"/><circle cx="370.90" cy="517.05" r="9.56" fill="#e1d539"/><circle cx="396.70" cy="517.05" r="9.56" fill="#e0de38"/><circle cx="422.50" cy="517.05" r="9.56" fill="#1c8119"/><circle cx="448.30" cy="517.05" r="9.56" fill="#5eab25"/></g><path d="M461.70,512.60 Q462.70,506.10 472.20,505.20" stroke="#14146e" stroke-width="1.2" fill="none" stroke-linecap="round" opacity="0.85"/><rect x="620.00" y="421.10" width="45.00" height="127.70" fill="#333333"/><rect x="624.10" y="423.70" width="5.2" height="4.4" fill="#000000"/><text x="633.10" y="427.70" class="lt" style="font-size:5.0px">&gt; 25.866596</text><rect x="624.10" y="431.13" width="5.2" height="4.4" fill="#ff0000"/><text x="633.10" y="435.14" class="lt" style="font-size:5.0px">25.866596</text><rect x="624.10" y="438.56" width="5.2" height="4.4" fill="#ff2000"/><text x="633.10" y="442.57" class="lt" style="font-size:5.0px">24.018982</text><rect x="624.10" y="445.99" width="5.2" height="4.4" fill="#ff4500"/><text x="633.10" y="450.00" class="lt" style="font-size:5.0px">22.171368</text><rect x="624.10" y="453.43" width="5.2" height="4.4" fill="#ff6a00"/><text x="633.10" y="457.43" class="lt" style="font-size:5.0px">20.323754</text><rect x="624.10" y="460.86" width="5.2" height="4.4" fill="#ff9000"/><text x="633.10" y="464.86" class="lt" style="font-size:5.0px">18.47614</text><rect x="624.10" y="468.29" width="5.2" height="4.4" fill="#ffb800"/><text x="633.10" y="472.29" class="lt" style="font-size:5.0px">16.628526</text><rect x="624.10" y="475.72" width="5.2" height="4.4" fill="#ffdf00"/><text x="633.10" y="479.72" class="lt" style="font-size:5.0px">14.780912</text><rect x="624.10" y="483.15" width="5.2" height="4.4" fill="#ffff00"/><text x="633.10" y="487.15" class="lt" style="font-size:5.0px">12.933298</text><rect x="624.10" y="490.58" width="5.2" height="4.4" fill="#e1f000"/><text x="633.10" y="494.59" class="lt" style="font-size:5.0px">11.085684</text><rect x="624.10" y="498.01" width="5.2" height="4.4" fill="#c3e200"/><text x="633.10" y="502.02" class="lt" style="font-size:5.0px">9.23807</text><rect x="624.10" y="505.44" width="5.2" height="4.4" fill="#a5d300"/><text x="633.10" y="509.45" class="lt" style="font-size:5.0px">7.390456</text><rect x="624.10" y="512.87" width="5.2" height="4.4" fill="#81c100"/><text x="633.10" y="516.88" class="lt" style="font-size:5.0px">5.542842</text><rect x="624.10" y="520.31" width="5.2" height="4.4" fill="#56ab00"/><text x="633.10" y="524.31" class="lt" style="font-size:5.0px">3.695228</text><rect x="624.10" y="527.74" width="5.2" height="4.4" fill="#2b9600"/><text x="633.10" y="531.74" class="lt" style="font-size:5.0px">1.847614</text><rect x="624.10" y="535.17" width="5.2" height="4.4" fill="#008000"/><text x="633.10" y="539.17" class="lt" style="font-size:5.0px">0</text><rect x="624.10" y="542.60" width="5.2" height="4.4" fill="#ffffff"/><text x="633.10" y="546.60" class="lt" style="font-size:5.0px">&lt; 0</text><rect x="43.20" y="549.84" width="26.30" height="26.26" fill="#358508"/><circle cx="56.05" cy="562.37" r="9.62" fill="#398a0d"/><rect x="68.90" y="549.84" width="26.30" height="26.26" fill="#358508"/><circle cx="81.75" cy="562.37" r="9.62" fill="#398a0d"/><rect x="94.60" y="549.84" width="26.30" height="26.26" fill="#0b700b"/><circle cx="107.45" cy="562.37" r="9.62" fill="#0e730e"/><rect x="120.30" y="549.84" width="26.30" height="26.26" fill="#1e780a"/><circle cx="133.15" cy="562.37" r="9.62" fill="#217b0d"/><rect x="146.00" y="549.84" width="26.30" height="26.26" fill="#0b700b"/><circle cx="158.85" cy="562.37" r="9.62" fill="#0e730e"/><rect x="171.70" y="549.84" width="26.30" height="26.26" fill="#358508"/><circle cx="184.55" cy="562.37" r="9.62" fill="#398a0d"/><rect x="197.40" y="549.84" width="26.30" height="26.26" fill="#0b700b"/><circle cx="210.25" cy="562.37" r="9.62" fill="#0e730e"/><rect x="223.10" y="549.84" width="26.30" height="26.26" fill="#0b700b"/><circle cx="235.95" cy="562.37" r="9.62" fill="#0e730e"/><rect x="248.80" y="549.84" width="26.30" height="26.26" fill="#358508"/><circle cx="261.65" cy="562.37" r="9.62" fill="#398a0d"/><rect x="274.50" y="549.84" width="25.70" height="26.26" fill="#050505"/><path d="M274.90,549.84 V575.50" stroke="#242424" stroke-width="0.8"/><path d="M281.44,559.08 C281.44,551.89 293.77,552.41 293.26,560.62 C293.00,565.75 289.92,570.37 287.86,572.93 C286.06,569.34 281.44,565.24 281.44,559.08 Z" fill="#20208a"/><ellipse cx="286.06" cy="565.75" rx="2.06" ry="5.13" fill="#9a9ad8" opacity="0.55"/><path d="M274.50,549.84 L300.20,575.50 M300.20,549.84 L274.50,575.50" stroke="#cca6aa" stroke-width="0.95" fill="none"/><rect x="43.20" y="575.50" width="26.30" height="26.26" fill="#1e780a"/><circle cx="56.05" cy="588.03" r="9.62" fill="#217b0d"/><rect x="68.90" y="575.50" width="26.30" height="26.26" fill="#0b700b"/><circle cx="81.75" cy="588.03" r="9.62" fill="#0e730e"/><rect x="94.60" y="575.50" width="26.30" height="26.26" fill="#86aa0a"/><circle cx="107.45" cy="588.03" r="9.62" fill="#87af10"/><rect x="120.30" y="575.50" width="26.30" height="26.26" fill="#4e920a"/><circle cx="133.15" cy="588.03" r="9.62" fill="#51960f"/><rect x="146.00" y="575.50" width="26.30" height="26.26" fill="#6a9e0a"/><circle cx="158.85" cy="588.03" r="9.62" fill="#6ca310"/><rect x="171.70" y="575.50" width="26.30" height="26.26" fill="#0b700b"/><circle cx="184.55" cy="588.03" r="9.62" fill="#0e730e"/><rect x="197.40" y="575.50" width="26.30" height="26.26" fill="#358508"/><circle cx="210.25" cy="588.03" r="9.62" fill="#398a0d"/><rect x="223.10" y="575.50" width="26.30" height="26.26" fill="#1e780a"/><circle cx="235.95" cy="588.03" r="9.62" fill="#217b0d"/><rect x="248.80" y="575.50" width="26.30" height="26.26" fill="#de1612"/><circle cx="261.65" cy="588.03" r="9.62" fill="#e01b14"/><rect x="274.50" y="575.50" width="25.70" height="26.26" fill="#de4418"/><circle cx="287.35" cy="588.03" r="9.62" fill="#e0471a"/><rect x="43.20" y="601.16" width="26.30" height="26.26" fill="#c5ca13"/><circle cx="56.05" cy="613.69" r="9.62" fill="#c9cd19"/><rect x="68.90" y="601.16" width="26.30" height="26.26" fill="#1e780a"/><circle cx="81.75" cy="613.69" r="9.62" fill="#217b0d"/><rect x="94.60" y="601.16" width="26.30" height="26.26" fill="#1e780a"/><circle cx="107.45" cy="613.69" r="9.62" fill="#217b0d"/><rect x="120.30" y="601.16" width="26.30" height="26.26" fill="#1e780a"/><circle cx="133.15" cy="613.69" r="9.62" fill="#217b0d"/><rect x="146.00" y="601.16" width="26.30" height="26.26" fill="#1e780a"/><circle cx="158.85" cy="613.69" r="9.62" fill="#217b0d"/><rect x="171.70" y="601.16" width="26.30" height="26.26" fill="#1e780a"/><circle cx="184.55" cy="613.69" r="9.62" fill="#217b0d"/><rect x="197.40" y="601.16" width="26.30" height="26.26" fill="#358508"/><circle cx="210.25" cy="613.69" r="9.62" fill="#398a0d"/><rect x="223.10" y="601.16" width="26.30" height="26.26" fill="#358508"/><circle cx="235.95" cy="613.69" r="9.62" fill="#398a0d"/><rect x="248.80" y="601.16" width="26.30" height="26.26" fill="#86aa0a"/><circle cx="261.65" cy="613.69" r="9.62" fill="#87af10"/><rect x="274.50" y="601.16" width="25.70" height="26.26" fill="#358508"/><circle cx="287.35" cy="613.69" r="9.62" fill="#398a0d"/><rect x="43.20" y="626.82" width="26.30" height="26.26" fill="#1e780a"/><circle cx="56.05" cy="639.35" r="9.62" fill="#217b0d"/><rect x="68.90" y="626.82" width="26.30" height="26.26" fill="#1e780a"/><circle cx="81.75" cy="639.35" r="9.62" fill="#217b0d"/><rect x="94.60" y="626.82" width="26.30" height="26.26" fill="#1e780a"/><circle cx="107.45" cy="639.35" r="9.62" fill="#217b0d"/><rect x="120.30" y="626.82" width="26.30" height="26.26" fill="#1e780a"/><circle cx="133.15" cy="639.35" r="9.62" fill="#217b0d"/><rect x="146.00" y="626.82" width="26.30" height="26.26" fill="#050505"/><path d="M146.40,626.82 V652.48" stroke="#242424" stroke-width="0.8"/><path d="M151.14,642.73 C149.08,634.52 157.56,629.39 168.10,637.08 L160.13,642.22 L155.00,645.30 Z" fill="#1e1e8c"/><ellipse cx="152.17" cy="640.16" rx="1.1" ry="2.6" fill="#d0a8e8" opacity="0.8"/><path d="M146.00,626.82 L171.70,652.48 M171.70,626.82 L146.00,652.48" stroke="#cca6aa" stroke-width="0.95" fill="none"/><rect x="171.70" y="626.82" width="26.30" height="26.26" fill="#1e780a"/><circle cx="184.55" cy="639.35" r="9.62" fill="#217b0d"/><rect x="197.40" y="626.82" width="26.30" height="26.26" fill="#cacc13"/><circle cx="210.25" cy="639.35" r="9.62" fill="#cccf1a"/><rect x="223.10" y="626.82" width="26.30" height="26.26" fill="#050505"/><path d="M223.50,626.82 V652.48" stroke="#242424" stroke-width="0.8"/><path d="M231.32,632.47 L239.03,639.14" stroke="#b030c8" stroke-width="2.4" stroke-linecap="round"/><path d="M238.52,639.65 L245.20,644.27" stroke="#4a20c0" stroke-width="2.2" stroke-linecap="round"/><path d="M223.10,626.82 L248.80,652.48 M248.80,626.82 L223.10,652.48" stroke="#cca6aa" stroke-width="0.95" fill="none"/><rect x="248.80" y="626.82" width="26.30" height="26.26" fill="#0b700b"/><circle cx="261.65" cy="639.35" r="9.62" fill="#0e730e"/><rect x="274.50" y="626.82" width="25.70" height="26.26" fill="#1e780a"/><circle cx="287.35" cy="639.35" r="9.62" fill="#217b0d"/><rect x="43.20" y="652.48" width="26.30" height="25.66" fill="#0b700b"/><circle cx="56.05" cy="665.01" r="9.62" fill="#0e730e"/><rect x="68.90" y="652.48" width="26.30" height="25.66" fill="#1e780a"/><circle cx="81.75" cy="665.01" r="9.62" fill="#217b0d"/><rect x="94.60" y="652.48" width="26.30" height="25.66" fill="#050505"/><path d="M95.00,652.48 V678.14" stroke="#242424" stroke-width="0.8"/><path d="M94.60,652.48 L120.30,678.14 M120.30,652.48 L94.60,678.14" stroke="#cca6aa" stroke-width="0.95" fill="none"/><rect x="120.30" y="652.48" width="26.30" height="25.66" fill="#050505"/><path d="M120.70,652.48 V678.14" stroke="#242424" stroke-width="0.8"/><path d="M120.30,652.48 L146.00,678.14 M146.00,652.48 L120.30,678.14" stroke="#cca6aa" stroke-width="0.95" fill="none"/><rect x="146.00" y="652.48" width="26.30" height="25.66" fill="#050505"/><path d="M146.40,652.48 V678.14" stroke="#242424" stroke-width="0.8"/><path d="M146.00,652.48 L171.70,678.14 M171.70,652.48 L146.00,678.14" stroke="#cca6aa" stroke-width="0.95" fill="none"/><rect x="171.70" y="652.48" width="26.30" height="25.66" fill="#050505"/><path d="M172.10,652.48 V678.14" stroke="#242424" stroke-width="0.8"/><path d="M171.70,652.48 L197.40,678.14 M197.40,652.48 L171.70,678.14" stroke="#cca6aa" stroke-width="0.95" fill="none"/><rect x="197.40" y="652.48" width="26.30" height="25.66" fill="#050505"/><path d="M197.80,652.48 V678.14" stroke="#242424" stroke-width="0.8"/><path d="M197.40,652.48 L223.10,678.14 M223.10,652.48 L197.40,678.14" stroke="#cca6aa" stroke-width="0.95" fill="none"/><rect x="223.10" y="652.48" width="26.30" height="25.66" fill="#050505"/><path d="M223.50,652.48 V678.14" stroke="#242424" stroke-width="0.8"/><path d="M223.10,652.48 L248.80,678.14 M248.80,652.48 L223.10,678.14" stroke="#cca6aa" stroke-width="0.95" fill="none"/><rect x="248.80" y="652.48" width="26.30" height="25.66" fill="#050505"/><path d="M249.20,652.48 V678.14" stroke="#242424" stroke-width="0.8"/><path d="M248.80,652.48 L274.50,678.14 M274.50,652.48 L248.80,678.14" stroke="#cca6aa" stroke-width="0.95" fill="none"/><rect x="274.50" y="652.48" width="25.70" height="25.66" fill="#050505"/><path d="M274.90,652.48 V678.14" stroke="#242424" stroke-width="0.8"/><path d="M274.50,652.48 L300.20,678.14 M300.20,652.48 L274.50,678.14" stroke="#cca6aa" stroke-width="0.95" fill="none"/><g filter="url(#speck)"><circle cx="56.05" cy="562.37" r="9.62" fill="#3e9013"/><circle cx="81.75" cy="562.37" r="9.62" fill="#3e9013"/><circle cx="107.45" cy="562.37" r="9.62" fill="#127711"/><circle cx="133.15" cy="562.37" r="9.62" fill="#247e10"/><circle cx="158.85" cy="562.37" r="9.62" fill="#127711"/><circle cx="184.55" cy="562.37" r="9.62" fill="#3e9013"/><circle cx="210.25" cy="562.37" r="9.62" fill="#127711"/><circle cx="235.95" cy="562.37" r="9.62" fill="#127711"/><circle cx="261.65" cy="562.37" r="9.62" fill="#3e9013"/><circle cx="56.05" cy="588.03" r="9.62" fill="#247e10"/><circle cx="81.75" cy="588.03" r="9.62" fill="#127711"/><circle cx="107.45" cy="588.03" r="9.62" fill="#88b418"/><circle cx="133.15" cy="588.03" r="9.62" fill="#549c15"/><circle cx="158.85" cy="588.03" r="9.62" fill="#6faa18"/><circle cx="184.55" cy="588.03" r="9.62" fill="#127711"/><circle cx="210.25" cy="588.03" r="9.62" fill="#3e9013"/><circle cx="235.95" cy="588.03" r="9.62" fill="#247e10"/><circle cx="261.65" cy="588.03" r="9.62" fill="#e22217"/><circle cx="287.35" cy="588.03" r="9.62" fill="#e24a1c"/><circle cx="56.05" cy="613.69" r="9.62" fill="#ccd021"/><circle cx="81.75" cy="613.69" r="9.62" fill="#247e10"/><circle cx="107.45" cy="613.69" r="9.62" fill="#247e10"/><circle cx="133.15" cy="613.69" r="9.62" fill="#247e10"/><circle cx="158.85" cy="613.69" r="9.62" fill="#247e10"/><circle cx="184.55" cy="613.69" r="9.62" fill="#247e10"/><circle cx="210.25" cy="613.69" r="9.62" fill="#3e9013"/><circle cx="235.95" cy="613.69" r="9.62" fill="#3e9013"/><circle cx="261.65" cy="613.69" r="9.62" fill="#88b418"/><circle cx="287.35" cy="613.69" r="9.62" fill="#3e9013"/><circle cx="56.05" cy="639.35" r="9.62" fill="#247e10"/><circle cx="81.75" cy="639.35" r="9.62" fill="#247e10"/><circle cx="107.45" cy="639.35" r="9.62" fill="#247e10"/><circle cx="133.15" cy="639.35" r="9.62" fill="#247e10"/><circle cx="184.55" cy="639.35" r="9.62" fill="#247e10"/><circle cx="210.25" cy="639.35" r="9.62" fill="#d0d222"/><circle cx="261.65" cy="639.35" r="9.62" fill="#127711"/><circle cx="287.35" cy="639.35" r="9.62" fill="#247e10"/><circle cx="56.05" cy="665.01" r="9.62" fill="#127711"/><circle cx="81.75" cy="665.01" r="9.62" fill="#247e10"/></g><path d="M97.20,658.48 Q95.20,664.48 97.00,671.48" stroke="#44288c" stroke-width="1.1" fill="none"/><circle cx="100.10" cy="663.48" r="0.6" fill="#20a0a0"/><ellipse cx="128.30" cy="669.98" rx="2.6" ry="1.4" fill="#1a1f78" transform="rotate(-35 128.30 669.98)"/><ellipse cx="282.50" cy="658.48" rx="1.6" ry="0.8" fill="#1a2288" transform="rotate(-35 282.50 658.48)"/><text x="26.20" y="618.22" class="lab" text-anchor="middle">PD-1</text><rect x="308.00" y="549.70" width="45.00" height="127.70" fill="#333333"/><rect x="311.00" y="552.40" width="5.2" height="4.4" fill="#000000"/><text x="319.40" y="556.35" class="lt" style="font-size:4.85px">&gt; 64.4394</text><rect x="311.00" y="559.57" width="5.2" height="4.4" fill="#ff0000"/><text x="319.40" y="563.52" class="lt" style="font-size:4.85px">64.4394</text><rect x="311.00" y="566.74" width="5.2" height="4.4" fill="#ff2000"/><text x="319.40" y="570.69" class="lt" style="font-size:4.85px">59.865356</text><rect x="311.00" y="573.91" width="5.2" height="4.4" fill="#ff4500"/><text x="319.40" y="577.86" class="lt" style="font-size:4.85px">55.291311</text><rect x="311.00" y="581.07" width="5.2" height="4.4" fill="#ff6a00"/><text x="319.40" y="585.02" class="lt" style="font-size:4.85px">50.717267</text><rect x="311.00" y="588.24" width="5.2" height="4.4" fill="#ff9000"/><text x="319.40" y="592.19" class="lt" style="font-size:4.85px">46.143222</text><rect x="311.00" y="595.41" width="5.2" height="4.4" fill="#ffb800"/><text x="319.40" y="599.36" class="lt" style="font-size:4.85px">41.569178</text><rect x="311.00" y="602.58" width="5.2" height="4.4" fill="#ffdf00"/><text x="319.40" y="606.53" class="lt" style="font-size:4.85px">36.995133</text><rect x="311.00" y="609.75" width="5.2" height="4.4" fill="#ffff00"/><text x="319.40" y="613.70" class="lt" style="font-size:4.85px">32.421089</text><rect x="311.00" y="616.92" width="5.2" height="4.4" fill="#e1f000"/><text x="319.40" y="620.87" class="lt" style="font-size:4.85px">27.847045</text><rect x="311.00" y="624.09" width="5.2" height="4.4" fill="#c3e200"/><text x="319.40" y="628.04" class="lt" style="font-size:4.85px">23.273</text><rect x="311.00" y="631.26" width="5.2" height="4.4" fill="#a5d300"/><text x="319.40" y="635.21" class="lt" style="font-size:4.85px">18.698956</text><rect x="311.00" y="638.42" width="5.2" height="4.4" fill="#81c100"/><text x="319.40" y="642.38" class="lt" style="font-size:4.85px">14.124911</text><rect x="311.00" y="645.59" width="5.2" height="4.4" fill="#56ab00"/><text x="319.40" y="649.54" class="lt" style="font-size:4.85px">9.5508669</text><rect x="311.00" y="652.76" width="5.2" height="4.4" fill="#2b9600"/><text x="319.40" y="656.71" class="lt" style="font-size:4.85px">4.9768224</text><rect x="311.00" y="659.93" width="5.2" height="4.4" fill="#008000"/><text x="319.40" y="663.88" class="lt" style="font-size:4.85px">0.402778</text><rect x="311.00" y="667.10" width="5.2" height="4.4" fill="#ffffff"/><text x="319.40" y="671.05" class="lt" style="font-size:4.85px">&lt; 0.402778</text><rect x="358.00" y="560.10" width="26.40" height="26.10" fill="#dca21a"/><circle cx="370.90" cy="572.55" r="9.56" fill="#e1a727"/><rect x="383.80" y="560.10" width="26.40" height="26.10" fill="#dc6418"/><circle cx="396.70" cy="572.55" r="9.56" fill="#e17225"/><rect x="409.60" y="560.10" width="26.40" height="26.10" fill="#de4418"/><circle cx="422.50" cy="572.55" r="9.56" fill="#e24b1d"/><rect x="435.40" y="560.10" width="26.40" height="26.10" fill="#dc6418"/><circle cx="448.30" cy="572.55" r="9.56" fill="#e17225"/><rect x="461.20" y="560.10" width="26.40" height="26.10" fill="#de3616"/><circle cx="474.10" cy="572.55" r="9.56" fill="#e23f1b"/><rect x="487.00" y="560.10" width="26.40" height="26.10" fill="#bdc612"/><circle cx="499.90" cy="572.55" r="9.56" fill="#b8ce21"/><rect x="512.80" y="560.10" width="26.40" height="26.10" fill="#0b700b"/><circle cx="525.70" cy="572.55" r="9.56" fill="#137811"/><rect x="538.60" y="560.10" width="26.40" height="26.10" fill="#1e780a"/><circle cx="551.50" cy="572.55" r="9.56" fill="#247f10"/><rect x="564.40" y="560.10" width="26.40" height="26.10" fill="#358508"/><circle cx="577.30" cy="572.55" r="9.56" fill="#3f9114"/><rect x="590.20" y="560.10" width="25.80" height="26.10" fill="#d6b618"/><circle cx="603.10" cy="572.55" r="9.56" fill="#dcc028"/><rect x="358.00" y="585.60" width="26.40" height="26.10" fill="#de4418"/><circle cx="370.90" cy="598.05" r="9.56" fill="#e24b1d"/><rect x="383.80" y="585.60" width="26.40" height="26.10" fill="#80a80a"/><circle cx="396.70" cy="598.05" r="9.56" fill="#83b31a"/><rect x="409.60" y="585.60" width="26.40" height="26.10" fill="#d2d014"/><circle cx="422.50" cy="598.05" r="9.56" fill="#d8d624"/><rect x="435.40" y="585.60" width="26.40" height="26.10" fill="#6a9e0a"/><circle cx="448.30" cy="598.05" r="9.56" fill="#70ab1a"/><rect x="461.20" y="585.60" width="26.40" height="26.10" fill="#d3c815"/><circle cx="474.10" cy="598.05" r="9.56" fill="#d9d025"/><rect x="487.00" y="585.60" width="26.40" height="26.10" fill="#d2d014"/><circle cx="499.90" cy="598.05" r="9.56" fill="#d8d624"/><rect x="512.80" y="585.60" width="26.40" height="26.10" fill="#6a9e0a"/><circle cx="525.70" cy="598.05" r="9.56" fill="#70ab1a"/><rect x="538.60" y="585.60" width="26.40" height="26.10" fill="#d2d014"/><circle cx="551.50" cy="598.05" r="9.56" fill="#d8d624"/><rect x="564.40" y="585.60" width="26.40" height="26.10" fill="#bdc612"/><circle cx="577.30" cy="598.05" r="9.56" fill="#b8ce21"/><rect x="590.20" y="585.60" width="25.80" height="26.10" fill="#358508"/><circle cx="603.10" cy="598.05" r="9.56" fill="#3f9114"/><rect x="358.00" y="611.10" width="26.40" height="26.10" fill="#de2414"/><circle cx="370.90" cy="623.55" r="9.56" fill="#e22f19"/><rect x="383.80" y="611.10" width="26.40" height="26.10" fill="#dc6418"/><circle cx="396.70" cy="623.55" r="9.56" fill="#e17225"/><rect x="409.60" y="611.10" width="26.40" height="26.10" fill="#dc9119"/><circle cx="422.50" cy="623.55" r="9.56" fill="#e19826"/><rect x="435.40" y="611.10" width="26.40" height="26.10" fill="#d9ac19"/><circle cx="448.30" cy="623.55" r="9.56" fill="#deb026"/><rect x="461.20" y="611.10" width="26.40" height="26.10" fill="#dc8018"/><circle cx="474.10" cy="623.55" r="9.56" fill="#e18a25"/><rect x="487.00" y="611.10" width="26.40" height="26.10" fill="#d6b618"/><circle cx="499.90" cy="623.55" r="9.56" fill="#dcc028"/><rect x="512.80" y="611.10" width="26.40" height="26.10" fill="#de1612"/><circle cx="525.70" cy="623.55" r="9.56" fill="#e22318"/><rect x="538.60" y="611.10" width="26.40" height="26.10" fill="#de1612"/><circle cx="551.50" cy="623.55" r="9.56" fill="#e22318"/><rect x="564.40" y="611.10" width="26.40" height="26.10" fill="#bdc612"/><circle cx="577.30" cy="623.55" r="9.56" fill="#b8ce21"/><rect x="590.20" y="611.10" width="25.80" height="26.10" fill="#97b30d"/><circle cx="603.10" cy="623.55" r="9.56" fill="#97bd1d"/><rect x="358.00" y="636.60" width="26.40" height="25.50" fill="#de1612"/><circle cx="370.90" cy="649.05" r="9.56" fill="#e22318"/><rect x="383.80" y="636.60" width="26.40" height="25.50" fill="#dd5418"/><circle cx="396.70" cy="649.05" r="9.56" fill="#e2591d"/><rect x="409.60" y="636.60" width="26.40" height="25.50" fill="#dca21a"/><circle cx="422.50" cy="649.05" r="9.56" fill="#e1a727"/><rect x="435.40" y="636.60" width="26.40" height="25.50" fill="#d2d014"/><circle cx="448.30" cy="649.05" r="9.56" fill="#d8d624"/><rect x="461.20" y="636.60" width="26.40" height="25.50" fill="#050505"/><path d="M461.60,636.60 V662.10" stroke="#242424" stroke-width="0.8"/><path d="M461.20,636.60 L487.00,662.10 M487.00,636.60 L461.20,662.10" stroke="#e6b2ba" stroke-width="1.25" fill="none"/><rect x="487.00" y="636.60" width="26.40" height="25.50" fill="#050505"/><path d="M487.40,636.60 V662.10" stroke="#242424" stroke-width="0.8"/><path d="M487.00,636.60 L512.80,662.10 M512.80,636.60 L487.00,662.10" stroke="#e6b2ba" stroke-width="1.25" fill="none"/><rect x="512.80" y="636.60" width="26.40" height="25.50" fill="#050505"/><path d="M513.20,636.60 V662.10" stroke="#242424" stroke-width="0.8"/><path d="M512.80,636.60 L538.60,662.10 M538.60,636.60 L512.80,662.10" stroke="#e6b2ba" stroke-width="1.25" fill="none"/><rect x="538.60" y="636.60" width="26.40" height="25.50" fill="#050505"/><path d="M539.00,636.60 V662.10" stroke="#242424" stroke-width="0.8"/><path d="M538.60,636.60 L564.40,662.10 M564.40,636.60 L538.60,662.10" stroke="#e6b2ba" stroke-width="1.25" fill="none"/><rect x="564.40" y="636.60" width="26.40" height="25.50" fill="#050505"/><path d="M564.80,636.60 V662.10" stroke="#242424" stroke-width="0.8"/><path d="M564.40,636.60 L590.20,662.10 M590.20,636.60 L564.40,662.10" stroke="#e6b2ba" stroke-width="1.25" fill="none"/><rect x="590.20" y="636.60" width="25.80" height="25.50" fill="#050505"/><path d="M590.60,636.60 V662.10" stroke="#242424" stroke-width="0.8"/><path d="M590.20,636.60 L616.00,662.10 M616.00,636.60 L590.20,662.10" stroke="#e6b2ba" stroke-width="1.25" fill="none"/><g filter="url(#speck)"><circle cx="370.90" cy="572.55" r="9.56" fill="#e6ad36"/><circle cx="396.70" cy="572.55" r="9.56" fill="#e68235"/><circle cx="422.50" cy="572.55" r="9.56" fill="#e85423"/><circle cx="448.30" cy="572.55" r="9.56" fill="#e68235"/><circle cx="474.10" cy="572.55" r="9.56" fill="#e84a22"/><circle cx="499.90" cy="572.55" r="9.56" fill="#b1d734"/><circle cx="525.70" cy="572.55" r="9.56" fill="#1c8119"/><circle cx="551.50" cy="572.55" r="9.56" fill="#2c8818"/><circle cx="577.30" cy="572.55" r="9.56" fill="#4ba023"/><circle cx="603.10" cy="572.55" r="9.56" fill="#e2cc3b"/><circle cx="370.90" cy="598.05" r="9.56" fill="#e85423"/><circle cx="396.70" cy="598.05" r="9.56" fill="#87c22e"/><circle cx="422.50" cy="598.05" r="9.56" fill="#e0de38"/><circle cx="448.30" cy="598.05" r="9.56" fill="#77bb2e"/><circle cx="474.10" cy="598.05" r="9.56" fill="#e0d939"/><circle cx="499.90" cy="598.05" r="9.56" fill="#e0de38"/><circle cx="525.70" cy="598.05" r="9.56" fill="#77bb2e"/><circle cx="551.50" cy="598.05" r="9.56" fill="#e0de38"/><circle cx="577.30" cy="598.05" r="9.56" fill="#b1d734"/><circle cx="603.10" cy="598.05" r="9.56" fill="#4ba023"/><circle cx="370.90" cy="623.55" r="9.56" fill="#e83d20"/><circle cx="396.70" cy="623.55" r="9.56" fill="#e68235"/><circle cx="422.50" cy="623.55" r="9.56" fill="#e6a236"/><circle cx="448.30" cy="623.55" r="9.56" fill="#e4b436"/><circle cx="474.10" cy="623.55" r="9.56" fill="#e69635"/><circle cx="499.90" cy="623.55" r="9.56" fill="#e2cc3b"/><circle cx="525.70" cy="623.55" r="9.56" fill="#e8331f"/><circle cx="551.50" cy="623.55" r="9.56" fill="#e8331f"/><circle cx="577.30" cy="623.55" r="9.56" fill="#b1d734"/><circle cx="603.10" cy="623.55" r="9.56" fill="#97ca30"/><circle cx="370.90" cy="649.05" r="9.56" fill="#e8331f"/><circle cx="396.70" cy="649.05" r="9.56" fill="#e75f23"/><circle cx="422.50" cy="649.05" r="9.56" fill="#e6ad36"/><circle cx="448.30" cy="649.05" r="9.56" fill="#e0de38"/></g><path d="M461.70,644.60 Q462.70,638.10 472.20,637.20" stroke="#14146e" stroke-width="1.2" fill="none" stroke-linecap="round" opacity="0.85"/><rect x="620.00" y="553.50" width="45.00" height="127.70" fill="#333333"/><rect x="624.40" y="556.20" width="5.2" height="4.4" fill="#000000"/><text x="633.20" y="560.13" class="lt" style="font-size:4.8px">&gt; 94.542305</text><rect x="624.40" y="563.89" width="5.2" height="4.4" fill="#ff2000"/><text x="633.20" y="567.83" class="lt" style="font-size:4.8px">88.296489</text><rect x="624.40" y="571.59" width="5.2" height="4.4" fill="#ff4500"/><text x="633.20" y="575.52" class="lt" style="font-size:4.8px">82.050673</text><rect x="624.40" y="579.28" width="5.2" height="4.4" fill="#ff6a00"/><text x="633.20" y="583.21" class="lt" style="font-size:4.8px">75.804857</text><rect x="624.40" y="586.97" width="5.2" height="4.4" fill="#ff9000"/><text x="633.20" y="590.91" class="lt" style="font-size:4.8px">69.559041</text><rect x="624.40" y="594.67" width="5.2" height="4.4" fill="#ffb800"/><text x="633.20" y="598.60" class="lt" style="font-size:4.8px">63.313225</text><rect x="624.40" y="602.36" width="5.2" height="4.4" fill="#ffdf00"/><text x="633.20" y="606.29" class="lt" style="font-size:4.8px">57.067409</text><rect x="624.40" y="610.05" width="5.2" height="4.4" fill="#ffff00"/><text x="633.20" y="613.99" class="lt" style="font-size:4.8px">50.821594</text><rect x="624.40" y="617.75" width="5.2" height="4.4" fill="#e1f000"/><text x="633.20" y="621.68" class="lt" style="font-size:4.8px">44.575778</text><rect x="624.40" y="625.44" width="5.2" height="4.4" fill="#c3e200"/><text x="633.20" y="629.37" class="lt" style="font-size:4.8px">38.329962</text><rect x="624.40" y="633.13" width="5.2" height="4.4" fill="#a5d300"/><text x="633.20" y="637.07" class="lt" style="font-size:4.8px">32.084146</text><rect x="624.40" y="640.83" width="5.2" height="4.4" fill="#81c100"/><text x="633.20" y="644.76" class="lt" style="font-size:4.8px">25.83833</text><rect x="624.40" y="648.52" width="5.2" height="4.4" fill="#56ab00"/><text x="633.20" y="652.45" class="lt" style="font-size:4.8px">19.592514</text><rect x="624.40" y="656.21" width="5.2" height="4.4" fill="#2b9600"/><text x="633.20" y="660.15" class="lt" style="font-size:4.8px">13.346698</text><rect x="624.40" y="663.91" width="5.2" height="4.4" fill="#008000"/><text x="633.20" y="667.84" class="lt" style="font-size:4.8px">7.100882</text><rect x="624.40" y="671.60" width="5.2" height="4.4" fill="#ffffff"/><text x="633.20" y="675.53" class="lt" style="font-size:4.8px">&lt; 7.100882</text><rect x="43.20" y="681.90" width="26.30" height="26.26" fill="#358508"/><circle cx="56.05" cy="694.43" r="9.62" fill="#398a0d"/><rect x="68.90" y="681.90" width="26.30" height="26.26" fill="#358508"/><circle cx="81.75" cy="694.43" r="9.62" fill="#398a0d"/><rect x="94.60" y="681.90" width="26.30" height="26.26" fill="#1e780a"/><circle cx="107.45" cy="694.43" r="9.62" fill="#217b0d"/><rect x="120.30" y="681.90" width="26.30" height="26.26" fill="#1e780a"/><circle cx="133.15" cy="694.43" r="9.62" fill="#217b0d"/><rect x="146.00" y="681.90" width="26.30" height="26.26" fill="#1e780a"/><circle cx="158.85" cy="694.43" r="9.62" fill="#217b0d"/><rect x="171.70" y="681.90" width="26.30" height="26.26" fill="#358508"/><circle cx="184.55" cy="694.43" r="9.62" fill="#398a0d"/><rect x="197.40" y="681.90" width="26.30" height="26.26" fill="#0b700b"/><circle cx="210.25" cy="694.43" r="9.62" fill="#0e730e"/><rect x="223.10" y="681.90" width="26.30" height="26.26" fill="#0b700b"/><circle cx="235.95" cy="694.43" r="9.62" fill="#0e730e"/><rect x="248.80" y="681.90" width="26.30" height="26.26" fill="#5c980a"/><circle cx="261.65" cy="694.43" r="9.62" fill="#5e9c0f"/><rect x="274.50" y="681.90" width="25.70" height="26.26" fill="#050505"/><path d="M274.90,681.90 V707.56" stroke="#242424" stroke-width="0.8"/><path d="M281.44,691.14 C281.44,683.95 293.77,684.47 293.26,692.68 C293.00,697.81 289.92,702.43 287.86,704.99 C286.06,701.40 281.44,697.30 281.44,691.14 Z" fill="#20208a"/><ellipse cx="286.06" cy="697.81" rx="2.06" ry="5.13" fill="#9a9ad8" opacity="0.55"/><path d="M274.50,681.90 L300.20,707.56 M300.20,681.90 L274.50,707.56" stroke="#cca6aa" stroke-width="0.95" fill="none"/><rect x="43.20" y="707.56" width="26.30" height="26.26" fill="#1e780a"/><circle cx="56.05" cy="720.09" r="9.62" fill="#217b0d"/><rect x="68.90" y="707.56" width="26.30" height="26.26" fill="#0b700b"/><circle cx="81.75" cy="720.09" r="9.62" fill="#0e730e"/><rect x="94.60" y="707.56" width="26.30" height="26.26" fill="#6a9e0a"/><circle cx="107.45" cy="720.09" r="9.62" fill="#6ca310"/><rect x="120.30" y="707.56" width="26.30" height="26.26" fill="#4e920a"/><circle cx="133.15" cy="720.09" r="9.62" fill="#51960f"/><rect x="146.00" y="707.56" width="26.30" height="26.26" fill="#a8bc10"/><circle cx="158.85" cy="720.09" r="9.62" fill="#a7c016"/><rect x="171.70" y="707.56" width="26.30" height="26.26" fill="#1e780a"/><circle cx="184.55" cy="720.09" r="9.62" fill="#217b0d"/><rect x="197.40" y="707.56" width="26.30" height="26.26" fill="#358508"/><circle cx="210.25" cy="720.09" r="9.62" fill="#398a0d"/><rect x="223.10" y="707.56" width="26.30" height="26.26" fill="#1e780a"/><circle cx="235.95" cy="720.09" r="9.62" fill="#217b0d"/><rect x="248.80" y="707.56" width="26.30" height="26.26" fill="#de1612"/><circle cx="261.65" cy="720.09" r="9.62" fill="#e01b14"/><rect x="274.50" y="707.56" width="25.70" height="26.26" fill="#de1612"/><circle cx="287.35" cy="720.09" r="9.62" fill="#e01b14"/><rect x="43.20" y="733.22" width="26.30" height="26.26" fill="#b9c412"/><circle cx="56.05" cy="745.75" r="9.62" fill="#b7c718"/><rect x="68.90" y="733.22" width="26.30" height="26.26" fill="#1e780a"/><circle cx="81.75" cy="745.75" r="9.62" fill="#217b0d"/><rect x="94.60" y="733.22" width="26.30" height="26.26" fill="#1e780a"/><circle cx="107.45" cy="745.75" r="9.62" fill="#217b0d"/><rect x="120.30" y="733.22" width="26.30" height="26.26" fill="#1e780a"/><circle cx="133.15" cy="745.75" r="9.62" fill="#217b0d"/><rect x="146.00" y="733.22" width="26.30" height="26.26" fill="#0b700b"/><circle cx="158.85" cy="745.75" r="9.62" fill="#0e730e"/><rect x="171.70" y="733.22" width="26.30" height="26.26" fill="#1e780a"/><circle cx="184.55" cy="745.75" r="9.62" fill="#217b0d"/><rect x="197.40" y="733.22" width="26.30" height="26.26" fill="#4e920a"/><circle cx="210.25" cy="745.75" r="9.62" fill="#51960f"/><rect x="223.10" y="733.22" width="26.30" height="26.26" fill="#428c09"/><circle cx="235.95" cy="745.75" r="9.62" fill="#45900e"/><rect x="248.80" y="733.22" width="26.30" height="26.26" fill="#d8b019"/><circle cx="261.65" cy="745.75" r="9.62" fill="#dab11e"/><rect x="274.50" y="733.22" width="25.70" height="26.26" fill="#358508"/><circle cx="287.35" cy="745.75" r="9.62" fill="#398a0d"/><rect x="43.20" y="758.88" width="26.30" height="26.26" fill="#1e780a"/><circle cx="56.05" cy="771.41" r="9.62" fill="#217b0d"/><rect x="68.90" y="758.88" width="26.30" height="26.26" fill="#358508"/><circle cx="81.75" cy="771.41" r="9.62" fill="#398a0d"/><rect x="94.60" y="758.88" width="26.30" height="26.26" fill="#1e780a"/><circle cx="107.45" cy="771.41" r="9.62" fill="#217b0d"/><rect x="120.30" y="758.88" width="26.30" height="26.26" fill="#1e780a"/><circle cx="133.15" cy="771.41" r="9.62" fill="#217b0d"/><rect x="146.00" y="758.88" width="26.30" height="26.26" fill="#050505"/><path d="M146.40,758.88 V784.54" stroke="#242424" stroke-width="0.8"/><path d="M151.14,774.79 C149.08,766.58 157.56,761.45 168.10,769.14 L160.13,774.28 L155.00,777.36 Z" fill="#1e1e8c"/><ellipse cx="152.17" cy="772.22" rx="1.1" ry="2.6" fill="#d0a8e8" opacity="0.8"/><path d="M146.00,758.88 L171.70,784.54 M171.70,758.88 L146.00,784.54" stroke="#cca6aa" stroke-width="0.95" fill="none"/><rect x="171.70" y="758.88" width="26.30" height="26.26" fill="#1e780a"/><circle cx="184.55" cy="771.41" r="9.62" fill="#217b0d"/><rect x="197.40" y="758.88" width="26.30" height="26.26" fill="#4e920a"/><circle cx="210.25" cy="771.41" r="9.62" fill="#51960f"/><rect x="223.10" y="758.88" width="26.30" height="26.26" fill="#050505"/><path d="M223.50,758.88 V784.54" stroke="#242424" stroke-width="0.8"/><path d="M231.32,764.53 L239.03,771.20" stroke="#b030c8" stroke-width="2.4" stroke-linecap="round"/><path d="M238.52,771.71 L245.20,776.33" stroke="#4a20c0" stroke-width="2.2" stroke-linecap="round"/><path d="M223.10,758.88 L248.80,784.54 M248.80,758.88 L223.10,784.54" stroke="#cca6aa" stroke-width="0.95" fill="none"/><rect x="248.80" y="758.88" width="26.30" height="26.26" fill="#0b700b"/><circle cx="261.65" cy="771.41" r="9.62" fill="#0e730e"/><rect x="274.50" y="758.88" width="25.70" height="26.26" fill="#1e780a"/><circle cx="287.35" cy="771.41" r="9.62" fill="#217b0d"/><rect x="43.20" y="784.54" width="26.30" height="25.66" fill="#0b700b"/><circle cx="56.05" cy="797.07" r="9.62" fill="#0e730e"/><rect x="68.90" y="784.54" width="26.30" height="25.66" fill="#1e780a"/><circle cx="81.75" cy="797.07" r="9.62" fill="#217b0d"/><rect x="94.60" y="784.54" width="26.30" height="25.66" fill="#050505"/><path d="M95.00,784.54 V810.20" stroke="#242424" stroke-width="0.8"/><path d="M94.60,784.54 L120.30,810.20 M120.30,784.54 L94.60,810.20" stroke="#cca6aa" stroke-width="0.95" fill="none"/><rect x="120.30" y="784.54" width="26.30" height="25.66" fill="#050505"/><path d="M120.70,784.54 V810.20" stroke="#242424" stroke-width="0.8"/><path d="M120.30,784.54 L146.00,810.20 M146.00,784.54 L120.30,810.20" stroke="#cca6aa" stroke-width="0.95" fill="none"/><rect x="146.00" y="784.54" width="26.30" height="25.66" fill="#050505"/><path d="M146.40,784.54 V810.20" stroke="#242424" stroke-width="0.8"/><path d="M146.00,784.54 L171.70,810.20 M171.70,784.54 L146.00,810.20" stroke="#cca6aa" stroke-width="0.95" fill="none"/><rect x="171.70" y="784.54" width="26.30" height="25.66" fill="#050505"/><path d="M172.10,784.54 V810.20" stroke="#242424" stroke-width="0.8"/><path d="M171.70,784.54 L197.40,810.20 M197.40,784.54 L171.70,810.20" stroke="#cca6aa" stroke-width="0.95" fill="none"/><rect x="197.40" y="784.54" width="26.30" height="25.66" fill="#050505"/><path d="M197.80,784.54 V810.20" stroke="#242424" stroke-width="0.8"/><path d="M197.40,784.54 L223.10,810.20 M223.10,784.54 L197.40,810.20" stroke="#cca6aa" stroke-width="0.95" fill="none"/><rect x="223.10" y="784.54" width="26.30" height="25.66" fill="#050505"/><path d="M223.50,784.54 V810.20" stroke="#242424" stroke-width="0.8"/><path d="M223.10,784.54 L248.80,810.20 M248.80,784.54 L223.10,810.20" stroke="#cca6aa" stroke-width="0.95" fill="none"/><rect x="248.80" y="784.54" width="26.30" height="25.66" fill="#050505"/><path d="M249.20,784.54 V810.20" stroke="#242424" stroke-width="0.8"/><path d="M248.80,784.54 L274.50,810.20 M274.50,784.54 L248.80,810.20" stroke="#cca6aa" stroke-width="0.95" fill="none"/><rect x="274.50" y="784.54" width="25.70" height="25.66" fill="#050505"/><path d="M274.90,784.54 V810.20" stroke="#242424" stroke-width="0.8"/><path d="M274.50,784.54 L300.20,810.20 M300.20,784.54 L274.50,810.20" stroke="#cca6aa" stroke-width="0.95" fill="none"/><g filter="url(#speck)"><circle cx="56.05" cy="694.43" r="9.62" fill="#3e9013"/><circle cx="81.75" cy="694.43" r="9.62" fill="#3e9013"/><circle cx="107.45" cy="694.43" r="9.62" fill="#247e10"/><circle cx="133.15" cy="694.43" r="9.62" fill="#247e10"/><circle cx="158.85" cy="694.43" r="9.62" fill="#247e10"/><circle cx="184.55" cy="694.43" r="9.62" fill="#3e9013"/><circle cx="210.25" cy="694.43" r="9.62" fill="#127711"/><circle cx="235.95" cy="694.43" r="9.62" fill="#127711"/><circle cx="261.65" cy="694.43" r="9.62" fill="#61a115"/><circle cx="56.05" cy="720.09" r="9.62" fill="#247e10"/><circle cx="81.75" cy="720.09" r="9.62" fill="#127711"/><circle cx="107.45" cy="720.09" r="9.62" fill="#6faa18"/><circle cx="133.15" cy="720.09" r="9.62" fill="#549c15"/><circle cx="158.85" cy="720.09" r="9.62" fill="#a6c41e"/><circle cx="184.55" cy="720.09" r="9.62" fill="#247e10"/><circle cx="210.25" cy="720.09" r="9.62" fill="#3e9013"/><circle cx="235.95" cy="720.09" r="9.62" fill="#247e10"/><circle cx="261.65" cy="720.09" r="9.62" fill="#e22217"/><circle cx="287.35" cy="720.09" r="9.62" fill="#e22217"/><circle cx="56.05" cy="745.75" r="9.62" fill="#b5cb1f"/><circle cx="81.75" cy="745.75" r="9.62" fill="#247e10"/><circle cx="107.45" cy="745.75" r="9.62" fill="#247e10"/><circle cx="133.15" cy="745.75" r="9.62" fill="#247e10"/><circle cx="158.85" cy="745.75" r="9.62" fill="#127711"/><circle cx="184.55" cy="745.75" r="9.62" fill="#247e10"/><circle cx="210.25" cy="745.75" r="9.62" fill="#549c15"/><circle cx="235.95" cy="745.75" r="9.62" fill="#499614"/><circle cx="261.65" cy="745.75" r="9.62" fill="#ddb324"/><circle cx="287.35" cy="745.75" r="9.62" fill="#3e9013"/><circle cx="56.05" cy="771.41" r="9.62" fill="#247e10"/><circle cx="81.75" cy="771.41" r="9.62" fill="#3e9013"/><circle cx="107.45" cy="771.41" r="9.62" fill="#247e10"/><circle cx="133.15" cy="771.41" r="9.62" fill="#247e10"/><circle cx="184.55" cy="771.41" r="9.62" fill="#247e10"/><circle cx="210.25" cy="771.41" r="9.62" fill="#549c15"/><circle cx="261.65" cy="771.41" r="9.62" fill="#127711"/><circle cx="287.35" cy="771.41" r="9.62" fill="#247e10"/><circle cx="56.05" cy="797.07" r="9.62" fill="#127711"/><circle cx="81.75" cy="797.07" r="9.62" fill="#247e10"/></g><path d="M97.20,790.54 Q95.20,796.54 97.00,803.54" stroke="#44288c" stroke-width="1.1" fill="none"/><circle cx="100.10" cy="795.54" r="0.6" fill="#20a0a0"/><ellipse cx="128.30" cy="802.04" rx="2.6" ry="1.4" fill="#1a1f78" transform="rotate(-35 128.30 802.04)"/><ellipse cx="282.50" cy="790.54" rx="1.6" ry="0.8" fill="#1a2288" transform="rotate(-35 282.50 790.54)"/><text x="22.15" y="752.92" class="lab" text-anchor="middle">PDL-1</text><rect x="308.00" y="681.80" width="45.00" height="127.70" fill="#333333"/><rect x="311.00" y="685.70" width="5.2" height="4.4" fill="#000000"/><text x="319.40" y="689.65" class="lt" style="font-size:4.85px">&gt; 45.398018</text><rect x="311.00" y="692.82" width="5.2" height="4.4" fill="#ff0000"/><text x="319.40" y="696.77" class="lt" style="font-size:4.85px">45.398018</text><rect x="311.00" y="699.94" width="5.2" height="4.4" fill="#ff2000"/><text x="319.40" y="703.89" class="lt" style="font-size:4.85px">42.186629</text><rect x="311.00" y="707.06" width="5.2" height="4.4" fill="#ff4500"/><text x="319.40" y="711.01" class="lt" style="font-size:4.85px">38.97524</text><rect x="311.00" y="714.17" width="5.2" height="4.4" fill="#ff6a00"/><text x="319.40" y="718.12" class="lt" style="font-size:4.85px">35.763851</text><rect x="311.00" y="721.29" width="5.2" height="4.4" fill="#ff9000"/><text x="319.40" y="725.24" class="lt" style="font-size:4.85px">32.552463</text><rect x="311.00" y="728.41" width="5.2" height="4.4" fill="#ffb800"/><text x="319.40" y="732.36" class="lt" style="font-size:4.85px">29.341074</text><rect x="311.00" y="735.53" width="5.2" height="4.4" fill="#ffdf00"/><text x="319.40" y="739.48" class="lt" style="font-size:4.85px">26.129685</text><rect x="311.00" y="742.65" width="5.2" height="4.4" fill="#ffff00"/><text x="319.40" y="746.60" class="lt" style="font-size:4.85px">22.918296</text><rect x="311.00" y="749.77" width="5.2" height="4.4" fill="#e1f000"/><text x="319.40" y="753.72" class="lt" style="font-size:4.85px">19.706907</text><rect x="311.00" y="756.89" width="5.2" height="4.4" fill="#c3e200"/><text x="319.40" y="760.84" class="lt" style="font-size:4.85px">16.495518</text><rect x="311.00" y="764.01" width="5.2" height="4.4" fill="#a5d300"/><text x="319.40" y="767.96" class="lt" style="font-size:4.85px">13.284129</text><rect x="311.00" y="771.12" width="5.2" height="4.4" fill="#81c100"/><text x="319.40" y="775.07" class="lt" style="font-size:4.85px">10.072741</text><rect x="311.00" y="778.24" width="5.2" height="4.4" fill="#56ab00"/><text x="319.40" y="782.19" class="lt" style="font-size:4.85px">6.8613517</text><rect x="311.00" y="785.36" width="5.2" height="4.4" fill="#2b9600"/><text x="319.40" y="789.31" class="lt" style="font-size:4.85px">3.6499629</text><rect x="311.00" y="792.48" width="5.2" height="4.4" fill="#008000"/><text x="319.40" y="796.43" class="lt" style="font-size:4.85px">0.438574</text><rect x="311.00" y="799.60" width="5.2" height="4.4" fill="#ffffff"/><text x="319.40" y="803.55" class="lt" style="font-size:4.85px">&lt; 0.438574</text><rect x="358.00" y="692.80" width="26.40" height="26.10" fill="#dca21a"/><circle cx="370.90" cy="705.25" r="9.56" fill="#e1a727"/><rect x="383.80" y="692.80" width="26.40" height="26.10" fill="#dca21a"/><circle cx="396.70" cy="705.25" r="9.56" fill="#e1a727"/><rect x="409.60" y="692.80" width="26.40" height="26.10" fill="#dc6418"/><circle cx="422.50" cy="705.25" r="9.56" fill="#e17225"/><rect x="435.40" y="692.80" width="26.40" height="26.10" fill="#dc6418"/><circle cx="448.30" cy="705.25" r="9.56" fill="#e17225"/><rect x="461.20" y="692.80" width="26.40" height="26.10" fill="#de4a18"/><circle cx="474.10" cy="705.25" r="9.56" fill="#e2511d"/><rect x="487.00" y="692.80" width="26.40" height="26.10" fill="#97b30d"/><circle cx="499.90" cy="705.25" r="9.56" fill="#97bd1d"/><rect x="512.80" y="692.80" width="26.40" height="26.10" fill="#0b700b"/><circle cx="525.70" cy="705.25" r="9.56" fill="#137811"/><rect x="538.60" y="692.80" width="26.40" height="26.10" fill="#1e780a"/><circle cx="551.50" cy="705.25" r="9.56" fill="#247f10"/><rect x="564.40" y="692.80" width="26.40" height="26.10" fill="#5c980a"/><circle cx="577.30" cy="705.25" r="9.56" fill="#62a216"/><rect x="590.20" y="692.80" width="25.80" height="26.10" fill="#dca21a"/><circle cx="603.10" cy="705.25" r="9.56" fill="#e1a727"/><rect x="358.00" y="718.30" width="26.40" height="26.10" fill="#dca21a"/><circle cx="370.90" cy="730.75" r="9.56" fill="#e1a727"/><rect x="383.80" y="718.30" width="26.40" height="26.10" fill="#629a0a"/><circle cx="396.70" cy="730.75" r="9.56" fill="#69a81a"/><rect x="409.60" y="718.30" width="26.40" height="26.10" fill="#86aa0a"/><circle cx="422.50" cy="730.75" r="9.56" fill="#88b51a"/><rect x="435.40" y="718.30" width="26.40" height="26.10" fill="#6a9e0a"/><circle cx="448.30" cy="730.75" r="9.56" fill="#70ab1a"/><rect x="461.20" y="718.30" width="26.40" height="26.10" fill="#d2d014"/><circle cx="474.10" cy="730.75" r="9.56" fill="#d8d624"/><rect x="487.00" y="718.30" width="26.40" height="26.10" fill="#d3c815"/><circle cx="499.90" cy="730.75" r="9.56" fill="#d9d025"/><rect x="512.80" y="718.30" width="26.40" height="26.10" fill="#629a0a"/><circle cx="525.70" cy="730.75" r="9.56" fill="#69a81a"/><rect x="538.60" y="718.30" width="26.40" height="26.10" fill="#97b30d"/><circle cx="551.50" cy="730.75" r="9.56" fill="#97bd1d"/><rect x="564.40" y="718.30" width="26.40" height="26.10" fill="#97b30d"/><circle cx="577.30" cy="730.75" r="9.56" fill="#97bd1d"/><rect x="590.20" y="718.30" width="25.80" height="26.10" fill="#2a7e09"/><circle cx="603.10" cy="730.75" r="9.56" fill="#2f8510"/><rect x="358.00" y="743.80" width="26.40" height="26.10" fill="#de2414"/><circle cx="370.90" cy="756.25" r="9.56" fill="#e22f19"/><rect x="383.80" y="743.80" width="26.40" height="26.10" fill="#dc8018"/><circle cx="396.70" cy="756.25" r="9.56" fill="#e18a25"/><rect x="409.60" y="743.80" width="26.40" height="26.10" fill="#dc8018"/><circle cx="422.50" cy="756.25" r="9.56" fill="#e18a25"/><rect x="435.40" y="743.80" width="26.40" height="26.10" fill="#9eb70e"/><circle cx="448.30" cy="756.25" r="9.56" fill="#9dc01e"/><rect x="461.20" y="743.80" width="26.40" height="26.10" fill="#dc9819"/><circle cx="474.10" cy="756.25" r="9.56" fill="#e19e26"/><rect x="487.00" y="743.80" width="26.40" height="26.10" fill="#86aa0a"/><circle cx="499.90" cy="756.25" r="9.56" fill="#88b51a"/><rect x="512.80" y="743.80" width="26.40" height="26.10" fill="#de4418"/><circle cx="525.70" cy="756.25" r="9.56" fill="#e24b1d"/><rect x="538.60" y="743.80" width="26.40" height="26.10" fill="#dc9819"/><circle cx="551.50" cy="756.25" r="9.56" fill="#e19e26"/><rect x="564.40" y="743.80" width="26.40" height="26.10" fill="#86aa0a"/><circle cx="577.30" cy="756.25" r="9.56" fill="#88b51a"/><rect x="590.20" y="743.80" width="25.80" height="26.10" fill="#4e920a"/><circle cx="603.10" cy="756.25" r="9.56" fill="#559d16"/><rect x="358.00" y="769.30" width="26.40" height="25.50" fill="#de1612"/><circle cx="370.90" cy="781.75" r="9.56" fill="#e22318"/><rect x="383.80" y="769.30" width="26.40" height="25.50" fill="#de4418"/><circle cx="396.70" cy="781.75" r="9.56" fill="#e24b1d"/><rect x="409.60" y="769.30" width="26.40" height="25.50" fill="#dca21a"/><circle cx="422.50" cy="781.75" r="9.56" fill="#e1a727"/><rect x="435.40" y="769.30" width="26.40" height="25.50" fill="#a8bc10"/><circle cx="448.30" cy="781.75" r="9.56" fill="#a6c51f"/><rect x="461.20" y="769.30" width="26.40" height="25.50" fill="#050505"/><path d="M461.60,769.30 V794.80" stroke="#242424" stroke-width="0.8"/><path d="M461.20,769.30 L487.00,794.80 M487.00,769.30 L461.20,794.80" stroke="#e6b2ba" stroke-width="1.25" fill="none"/><rect x="487.00" y="769.30" width="26.40" height="25.50" fill="#050505"/><path d="M487.40,769.30 V794.80" stroke="#242424" stroke-width="0.8"/><path d="M487.00,769.30 L512.80,794.80 M512.80,769.30 L487.00,794.80" stroke="#e6b2ba" stroke-width="1.25" fill="none"/><rect x="512.80" y="769.30" width="26.40" height="25.50" fill="#050505"/><path d="M513.20,769.30 V794.80" stroke="#242424" stroke-width="0.8"/><path d="M512.80,769.30 L538.60,794.80 M538.60,769.30 L512.80,794.80" stroke="#e6b2ba" stroke-width="1.25" fill="none"/><rect x="538.60" y="769.30" width="26.40" height="25.50" fill="#050505"/><path d="M539.00,769.30 V794.80" stroke="#242424" stroke-width="0.8"/><path d="M538.60,769.30 L564.40,794.80 M564.40,769.30 L538.60,794.80" stroke="#e6b2ba" stroke-width="1.25" fill="none"/><rect x="564.40" y="769.30" width="26.40" height="25.50" fill="#050505"/><path d="M564.80,769.30 V794.80" stroke="#242424" stroke-width="0.8"/><path d="M564.40,769.30 L590.20,794.80 M590.20,769.30 L564.40,794.80" stroke="#e6b2ba" stroke-width="1.25" fill="none"/><rect x="590.20" y="769.30" width="25.80" height="25.50" fill="#050505"/><path d="M590.60,769.30 V794.80" stroke="#242424" stroke-width="0.8"/><path d="M590.20,769.30 L616.00,794.80 M616.00,769.30 L590.20,794.80" stroke="#e6b2ba" stroke-width="1.25" fill="none"/><g filter="url(#speck)"><circle cx="370.90" cy="705.25" r="9.56" fill="#e6ad36"/><circle cx="396.70" cy="705.25" r="9.56" fill="#e6ad36"/><circle cx="422.50" cy="705.25" r="9.56" fill="#e68235"/><circle cx="448.30" cy="705.25" r="9.56" fill="#e68235"/><circle cx="474.10" cy="705.25" r="9.56" fill="#e85823"/><circle cx="499.90" cy="705.25" r="9.56" fill="#97ca30"/><circle cx="525.70" cy="705.25" r="9.56" fill="#1c8119"/><circle cx="551.50" cy="705.25" r="9.56" fill="#2c8818"/><circle cx="577.30" cy="705.25" r="9.56" fill="#69af25"/><circle cx="603.10" cy="705.25" r="9.56" fill="#e6ad36"/><circle cx="370.90" cy="730.75" r="9.56" fill="#e6ad36"/><circle cx="396.70" cy="730.75" r="9.56" fill="#71b92e"/><circle cx="422.50" cy="730.75" r="9.56" fill="#8bc42e"/><circle cx="448.30" cy="730.75" r="9.56" fill="#77bb2e"/><circle cx="474.10" cy="730.75" r="9.56" fill="#e0de38"/><circle cx="499.90" cy="730.75" r="9.56" fill="#e0d939"/><circle cx="525.70" cy="730.75" r="9.56" fill="#71b92e"/><circle cx="551.50" cy="730.75" r="9.56" fill="#97ca30"/><circle cx="577.30" cy="730.75" r="9.56" fill="#97ca30"/><circle cx="603.10" cy="730.75" r="9.56" fill="#378e18"/><circle cx="370.90" cy="756.25" r="9.56" fill="#e83d20"/><circle cx="396.70" cy="756.25" r="9.56" fill="#e69635"/><circle cx="422.50" cy="756.25" r="9.56" fill="#e69635"/><circle cx="448.30" cy="756.25" r="9.56" fill="#9bcc31"/><circle cx="474.10" cy="756.25" r="9.56" fill="#e6a636"/><circle cx="499.90" cy="756.25" r="9.56" fill="#8bc42e"/><circle cx="525.70" cy="756.25" r="9.56" fill="#e85423"/><circle cx="551.50" cy="756.25" r="9.56" fill="#e6a636"/><circle cx="577.30" cy="756.25" r="9.56" fill="#8bc42e"/><circle cx="603.10" cy="756.25" r="9.56" fill="#5eab25"/><circle cx="370.90" cy="781.75" r="9.56" fill="#e8331f"/><circle cx="396.70" cy="781.75" r="9.56" fill="#e85423"/><circle cx="422.50" cy="781.75" r="9.56" fill="#e6ad36"/><circle cx="448.30" cy="781.75" r="9.56" fill="#a3d032"/></g><path d="M461.70,777.30 Q462.70,770.80 472.20,769.90" stroke="#14146e" stroke-width="1.2" fill="none" stroke-linecap="round" opacity="0.85"/><rect x="620.00" y="686.70" width="45.00" height="127.70" fill="#333333"/><rect x="622.90" y="689.40" width="5.2" height="4.4" fill="#000000"/><text x="632.10" y="693.40" class="lt" style="font-size:5.0px">&gt; 88.954346</text><rect x="622.90" y="697.09" width="5.2" height="4.4" fill="#ff2000"/><text x="632.10" y="701.10" class="lt" style="font-size:5.0px">82.981243</text><rect x="622.90" y="704.79" width="5.2" height="4.4" fill="#ff4500"/><text x="632.10" y="708.79" class="lt" style="font-size:5.0px">77.008141</text><rect x="622.90" y="712.48" width="5.2" height="4.4" fill="#ff6a00"/><text x="632.10" y="716.48" class="lt" style="font-size:5.0px">71.035038</text><rect x="622.90" y="720.17" width="5.2" height="4.4" fill="#ff9000"/><text x="632.10" y="724.18" class="lt" style="font-size:5.0px">65.061935</text><rect x="622.90" y="727.87" width="5.2" height="4.4" fill="#ffb800"/><text x="632.10" y="731.87" class="lt" style="font-size:5.0px">59.088832</text><rect x="622.90" y="735.56" width="5.2" height="4.4" fill="#ffdf00"/><text x="632.10" y="739.56" class="lt" style="font-size:5.0px">53.11573</text><rect x="622.90" y="743.25" width="5.2" height="4.4" fill="#ffff00"/><text x="632.10" y="747.26" class="lt" style="font-size:5.0px">47.142627</text><rect x="622.90" y="750.95" width="5.2" height="4.4" fill="#e1f000"/><text x="632.10" y="754.95" class="lt" style="font-size:5.0px">41.169524</text><rect x="622.90" y="758.64" width="5.2" height="4.4" fill="#c3e200"/><text x="632.10" y="762.64" class="lt" style="font-size:5.0px">35.196422</text><rect x="622.90" y="766.33" width="5.2" height="4.4" fill="#a5d300"/><text x="632.10" y="770.34" class="lt" style="font-size:5.0px">29.223319</text><rect x="622.90" y="774.03" width="5.2" height="4.4" fill="#81c100"/><text x="632.10" y="778.03" class="lt" style="font-size:5.0px">23.250216</text><rect x="622.90" y="781.72" width="5.2" height="4.4" fill="#56ab00"/><text x="632.10" y="785.72" class="lt" style="font-size:5.0px">17.277113</text><rect x="622.90" y="789.41" width="5.2" height="4.4" fill="#2b9600"/><text x="632.10" y="793.42" class="lt" style="font-size:5.0px">11.304011</text><rect x="622.90" y="797.11" width="5.2" height="4.4" fill="#008000"/><text x="632.10" y="801.11" class="lt" style="font-size:5.0px">5.330908</text><rect x="622.90" y="804.80" width="5.2" height="4.4" fill="#ffffff"/><text x="632.10" y="808.80" class="lt" style="font-size:5.0px">&lt; 5.330908</text>
</svg>
</body></html>
